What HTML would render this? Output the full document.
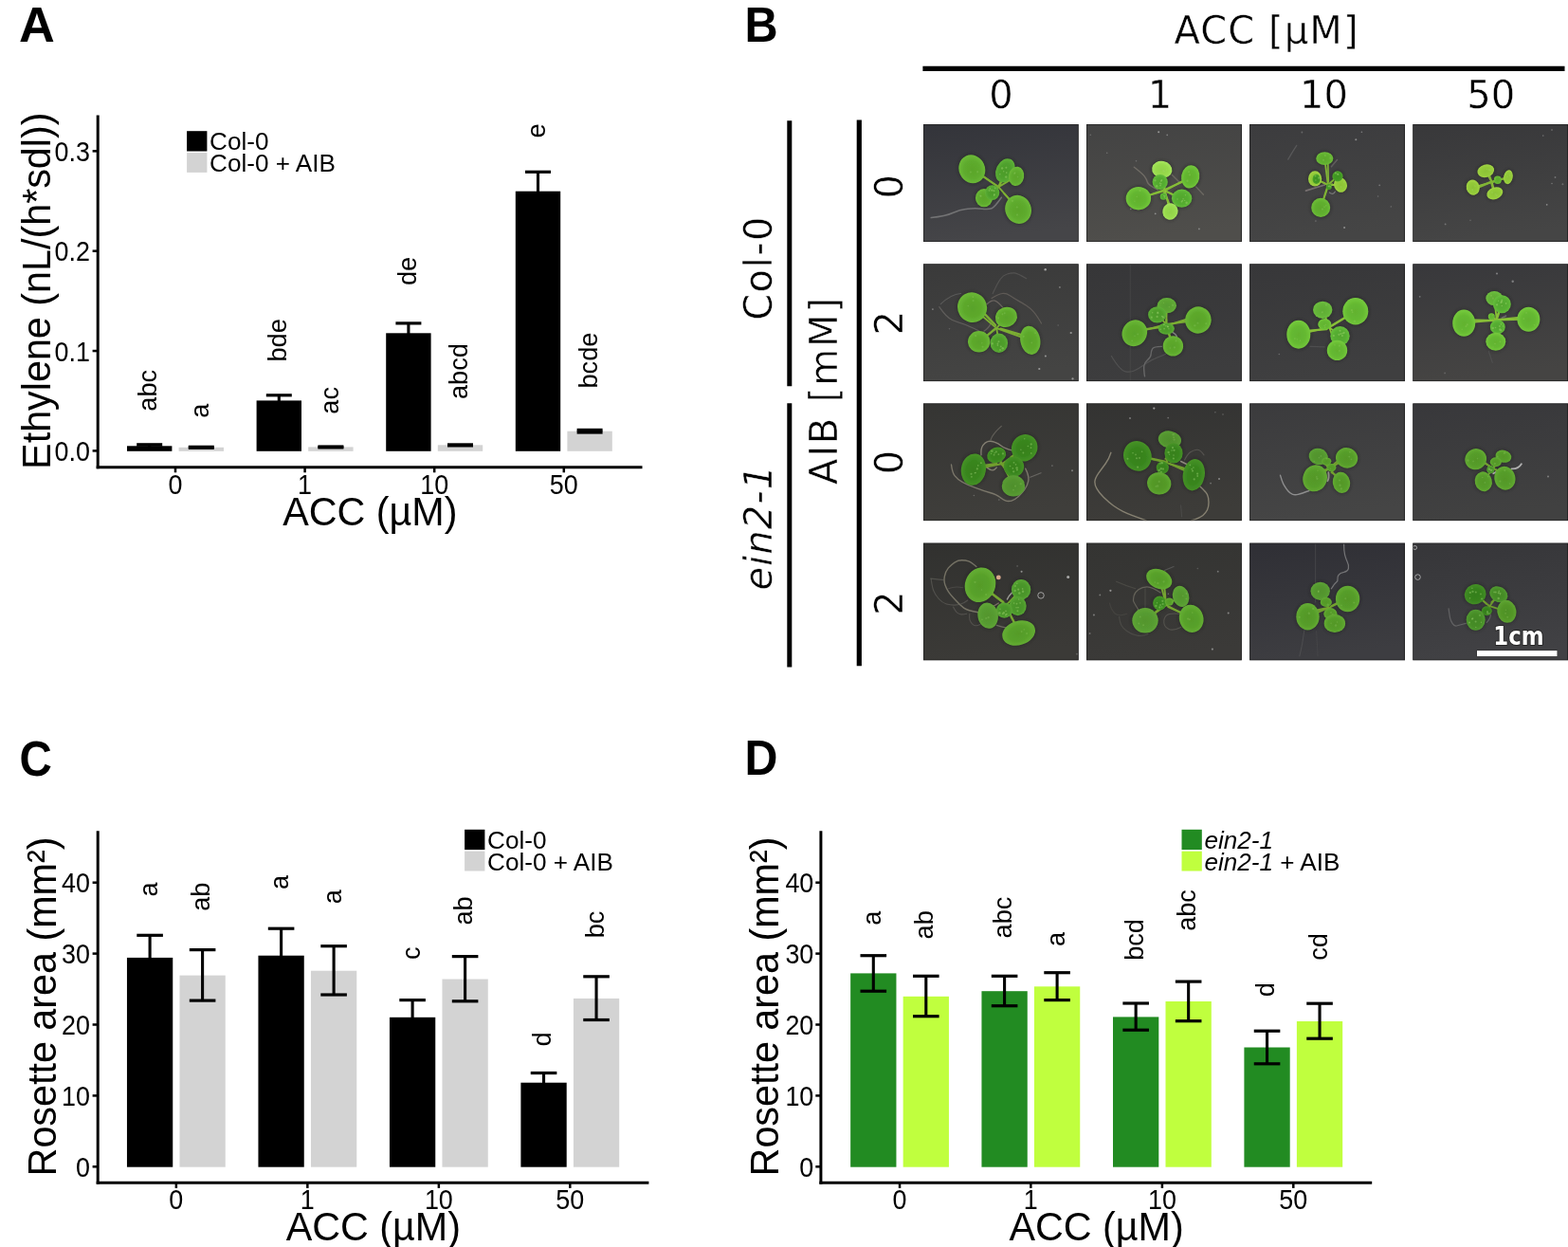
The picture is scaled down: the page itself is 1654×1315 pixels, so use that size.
<!DOCTYPE html>
<html lang="en"><head><meta charset="utf-8"><title>Figure</title>
<style>html,body{margin:0;padding:0;background:#fff}body{width:1654px;height:1315px;overflow:hidden}svg{display:block}text{font-family:"Liberation Sans", sans-serif;fill:#000} .b{font-family:"DejaVu Sans", sans-serif;stroke:#fff;stroke-width:0.45px} .pl{font-weight:bold} .i{font-style:italic}</style></head><body>
<svg width="1654" height="1315" viewBox="0 0 1654 1315">
<rect width="1654" height="1315" fill="#fff"/>
<text x="20.10" y="44.20" font-size="52.3" text-anchor="start" class="pl">A</text>
<text transform="translate(785.50 44.20) scale(0.93 1)" font-size="52.3" text-anchor="start" class="pl">B</text>
<text transform="translate(20.50 817.70) scale(0.91 1)" font-size="52.3" text-anchor="start" class="pl">C</text>
<text transform="translate(785.50 817.30) scale(0.925 1)" font-size="52.3" text-anchor="start" class="pl">D</text>
<rect x="134.00" y="470.30" width="47.40" height="5.50" fill="#000000"/>
<rect x="188.60" y="471.80" width="47.40" height="4.00" fill="#d3d3d3"/>
<line x1="157.70" y1="468.80" x2="157.70" y2="471.90" stroke="#000" stroke-width="3.1"/>
<line x1="144.20" y1="468.80" x2="171.20" y2="468.80" stroke="#000" stroke-width="3.2"/>
<line x1="144.20" y1="471.90" x2="171.20" y2="471.90" stroke="#000" stroke-width="3.2"/>
<line x1="212.30" y1="471.30" x2="212.30" y2="472.30" stroke="#000" stroke-width="3.1"/>
<line x1="198.80" y1="471.30" x2="225.80" y2="471.30" stroke="#000" stroke-width="3.2"/>
<line x1="198.80" y1="472.30" x2="225.80" y2="472.30" stroke="#000" stroke-width="3.2"/>
<text transform="translate(165.30 411.75) rotate(-90)" font-size="27.2" text-anchor="middle">abc</text>
<text transform="translate(219.90 433.30) rotate(-90)" font-size="27.2" text-anchor="middle">a</text>
<rect x="270.60" y="422.40" width="47.40" height="53.40" fill="#000000"/>
<rect x="325.20" y="471.40" width="47.40" height="4.40" fill="#d3d3d3"/>
<line x1="294.30" y1="416.80" x2="294.30" y2="427.60" stroke="#000" stroke-width="3.1"/>
<line x1="280.80" y1="416.80" x2="307.80" y2="416.80" stroke="#000" stroke-width="3.2"/>
<line x1="280.80" y1="427.60" x2="307.80" y2="427.60" stroke="#000" stroke-width="3.2"/>
<line x1="348.90" y1="471.00" x2="348.90" y2="471.90" stroke="#000" stroke-width="3.1"/>
<line x1="335.40" y1="471.00" x2="362.40" y2="471.00" stroke="#000" stroke-width="3.2"/>
<line x1="335.40" y1="471.90" x2="362.40" y2="471.90" stroke="#000" stroke-width="3.2"/>
<text transform="translate(301.90 358.85) rotate(-90)" font-size="27.2" text-anchor="middle">bde</text>
<text transform="translate(356.50 422.30) rotate(-90)" font-size="27.2" text-anchor="middle">ac</text>
<rect x="407.20" y="351.30" width="47.40" height="124.50" fill="#000000"/>
<rect x="461.80" y="469.30" width="47.40" height="6.50" fill="#d3d3d3"/>
<line x1="430.90" y1="340.90" x2="430.90" y2="359.60" stroke="#000" stroke-width="3.1"/>
<line x1="417.40" y1="340.90" x2="444.40" y2="340.90" stroke="#000" stroke-width="3.2"/>
<line x1="417.40" y1="359.60" x2="444.40" y2="359.60" stroke="#000" stroke-width="3.2"/>
<line x1="485.50" y1="468.90" x2="485.50" y2="469.90" stroke="#000" stroke-width="3.1"/>
<line x1="472.00" y1="468.90" x2="499.00" y2="468.90" stroke="#000" stroke-width="3.2"/>
<line x1="472.00" y1="469.90" x2="499.00" y2="469.90" stroke="#000" stroke-width="3.2"/>
<text transform="translate(438.50 285.90) rotate(-90)" font-size="27.2" text-anchor="middle">de</text>
<text transform="translate(493.10 391.60) rotate(-90)" font-size="27.2" text-anchor="middle">abcd</text>
<rect x="543.80" y="201.70" width="47.40" height="274.10" fill="#000000"/>
<rect x="598.40" y="454.70" width="47.40" height="21.10" fill="#d3d3d3"/>
<line x1="567.50" y1="181.30" x2="567.50" y2="219.60" stroke="#000" stroke-width="3.1"/>
<line x1="554.00" y1="181.30" x2="581.00" y2="181.30" stroke="#000" stroke-width="3.2"/>
<line x1="554.00" y1="219.60" x2="581.00" y2="219.60" stroke="#000" stroke-width="3.2"/>
<line x1="622.10" y1="453.40" x2="622.10" y2="456.00" stroke="#000" stroke-width="3.1"/>
<line x1="608.60" y1="453.40" x2="635.60" y2="453.40" stroke="#000" stroke-width="3.2"/>
<line x1="608.60" y1="456.00" x2="635.60" y2="456.00" stroke="#000" stroke-width="3.2"/>
<text transform="translate(575.10 138.05) rotate(-90)" font-size="27.2" text-anchor="middle">e</text>
<text transform="translate(629.70 380.10) rotate(-90)" font-size="27.2" text-anchor="middle">bcde</text>
<line x1="103.20" y1="121.40" x2="103.20" y2="494.20" stroke="#000" stroke-width="3.0"/>
<line x1="101.70" y1="492.70" x2="677.50" y2="492.70" stroke="#000" stroke-width="3.0"/>
<line x1="97.60" y1="475.40" x2="103.20" y2="475.40" stroke="#000" stroke-width="2.5"/>
<text transform="translate(95.00 485.90) scale(1 1.08)" font-size="26.9" text-anchor="end">0.0</text>
<line x1="97.60" y1="370.05" x2="103.20" y2="370.05" stroke="#000" stroke-width="2.5"/>
<text transform="translate(95.00 380.55) scale(1 1.08)" font-size="26.9" text-anchor="end">0.1</text>
<line x1="97.60" y1="264.70" x2="103.20" y2="264.70" stroke="#000" stroke-width="2.5"/>
<text transform="translate(95.00 275.20) scale(1 1.08)" font-size="26.9" text-anchor="end">0.2</text>
<line x1="97.60" y1="159.35" x2="103.20" y2="159.35" stroke="#000" stroke-width="2.5"/>
<text transform="translate(95.00 169.85) scale(1 1.08)" font-size="26.9" text-anchor="end">0.3</text>
<line x1="185.00" y1="492.70" x2="185.00" y2="498.30" stroke="#000" stroke-width="2.5"/>
<text transform="translate(185.00 520.90) scale(1 1.08)" font-size="26.9" text-anchor="middle">0</text>
<line x1="321.60" y1="492.70" x2="321.60" y2="498.30" stroke="#000" stroke-width="2.5"/>
<text transform="translate(321.60 520.90) scale(1 1.08)" font-size="26.9" text-anchor="middle">1</text>
<line x1="458.20" y1="492.70" x2="458.20" y2="498.30" stroke="#000" stroke-width="2.5"/>
<text transform="translate(458.20 520.90) scale(1 1.08)" font-size="26.9" text-anchor="middle">10</text>
<line x1="594.80" y1="492.70" x2="594.80" y2="498.30" stroke="#000" stroke-width="2.5"/>
<text transform="translate(594.80 520.90) scale(1 1.08)" font-size="26.9" text-anchor="middle">50</text>
<text transform="translate(52.80 306.70) rotate(-90) scale(1 1.04)" font-size="41.3" text-anchor="middle">Ethylene (nL/(h*sdl))</text>
<text transform="translate(390.35 553.70) scale(1 1.04)" font-size="41.3" text-anchor="middle">ACC (µM)</text>
<rect x="197.10" y="138.20" width="21.30" height="21.30" fill="#000000"/>
<rect x="197.10" y="161.10" width="21.30" height="20.80" fill="#d3d3d3"/>
<text x="221.10" y="158.40" font-size="26.1" text-anchor="start">Col-0</text>
<text x="221.10" y="181.30" font-size="26.1" text-anchor="start">Col-0 + AIB</text>
<rect x="133.95" y="1009.90" width="48.30" height="220.80" fill="#000000"/>
<rect x="189.45" y="1028.60" width="48.30" height="202.10" fill="#d3d3d3"/>
<line x1="158.10" y1="986.30" x2="158.10" y2="1019.60" stroke="#000" stroke-width="3.1"/>
<line x1="144.30" y1="986.30" x2="171.90" y2="986.30" stroke="#000" stroke-width="3.2"/>
<line x1="144.30" y1="1019.60" x2="171.90" y2="1019.60" stroke="#000" stroke-width="3.2"/>
<line x1="213.60" y1="1001.60" x2="213.60" y2="1055.10" stroke="#000" stroke-width="3.1"/>
<line x1="199.80" y1="1001.60" x2="227.40" y2="1001.60" stroke="#000" stroke-width="3.2"/>
<line x1="199.80" y1="1055.10" x2="227.40" y2="1055.10" stroke="#000" stroke-width="3.2"/>
<text transform="translate(165.70 937.85) rotate(-90)" font-size="27.2" text-anchor="middle">a</text>
<text transform="translate(221.20 945.65) rotate(-90)" font-size="27.2" text-anchor="middle">ab</text>
<rect x="272.45" y="1007.70" width="48.30" height="223.00" fill="#000000"/>
<rect x="327.95" y="1023.70" width="48.30" height="207.00" fill="#d3d3d3"/>
<line x1="296.60" y1="979.20" x2="296.60" y2="1019.60" stroke="#000" stroke-width="3.1"/>
<line x1="282.80" y1="979.20" x2="310.40" y2="979.20" stroke="#000" stroke-width="3.2"/>
<line x1="282.80" y1="1019.60" x2="310.40" y2="1019.60" stroke="#000" stroke-width="3.2"/>
<line x1="352.10" y1="997.70" x2="352.10" y2="1049.00" stroke="#000" stroke-width="3.1"/>
<line x1="338.30" y1="997.70" x2="365.90" y2="997.70" stroke="#000" stroke-width="3.2"/>
<line x1="338.30" y1="1049.00" x2="365.90" y2="1049.00" stroke="#000" stroke-width="3.2"/>
<text transform="translate(304.20 930.55) rotate(-90)" font-size="27.2" text-anchor="middle">a</text>
<text transform="translate(359.70 945.75) rotate(-90)" font-size="27.2" text-anchor="middle">a</text>
<rect x="410.95" y="1072.80" width="48.30" height="157.90" fill="#000000"/>
<rect x="466.45" y="1032.50" width="48.30" height="198.20" fill="#d3d3d3"/>
<line x1="435.10" y1="1054.60" x2="435.10" y2="1079.60" stroke="#000" stroke-width="3.1"/>
<line x1="421.30" y1="1054.60" x2="448.90" y2="1054.60" stroke="#000" stroke-width="3.2"/>
<line x1="421.30" y1="1079.60" x2="448.90" y2="1079.60" stroke="#000" stroke-width="3.2"/>
<line x1="490.60" y1="1008.60" x2="490.60" y2="1055.80" stroke="#000" stroke-width="3.1"/>
<line x1="476.80" y1="1008.60" x2="504.40" y2="1008.60" stroke="#000" stroke-width="3.2"/>
<line x1="476.80" y1="1055.80" x2="504.40" y2="1055.80" stroke="#000" stroke-width="3.2"/>
<text transform="translate(442.70 1005.20) rotate(-90)" font-size="27.2" text-anchor="middle">c</text>
<text transform="translate(498.20 960.40) rotate(-90)" font-size="27.2" text-anchor="middle">ab</text>
<rect x="549.40" y="1141.70" width="48.30" height="89.00" fill="#000000"/>
<rect x="604.90" y="1052.90" width="48.30" height="177.80" fill="#d3d3d3"/>
<line x1="573.55" y1="1131.50" x2="573.55" y2="1149.60" stroke="#000" stroke-width="3.1"/>
<line x1="559.75" y1="1131.50" x2="587.35" y2="1131.50" stroke="#000" stroke-width="3.2"/>
<line x1="559.75" y1="1149.60" x2="587.35" y2="1149.60" stroke="#000" stroke-width="3.2"/>
<line x1="629.05" y1="1029.80" x2="629.05" y2="1075.50" stroke="#000" stroke-width="3.1"/>
<line x1="615.25" y1="1029.80" x2="642.85" y2="1029.80" stroke="#000" stroke-width="3.2"/>
<line x1="615.25" y1="1075.50" x2="642.85" y2="1075.50" stroke="#000" stroke-width="3.2"/>
<text transform="translate(581.15 1096.00) rotate(-90)" font-size="27.2" text-anchor="middle">d</text>
<text transform="translate(636.65 975.00) rotate(-90)" font-size="27.2" text-anchor="middle">bc</text>
<line x1="103.20" y1="876.30" x2="103.20" y2="1248.80" stroke="#000" stroke-width="3.0"/>
<line x1="101.70" y1="1247.30" x2="684.40" y2="1247.30" stroke="#000" stroke-width="3.0"/>
<line x1="97.60" y1="1230.30" x2="103.20" y2="1230.30" stroke="#000" stroke-width="2.5"/>
<text transform="translate(95.00 1240.80) scale(1 1.08)" font-size="26.9" text-anchor="end">0</text>
<line x1="97.60" y1="1155.40" x2="103.20" y2="1155.40" stroke="#000" stroke-width="2.5"/>
<text transform="translate(95.00 1165.90) scale(1 1.08)" font-size="26.9" text-anchor="end">10</text>
<line x1="97.60" y1="1080.50" x2="103.20" y2="1080.50" stroke="#000" stroke-width="2.5"/>
<text transform="translate(95.00 1091.00) scale(1 1.08)" font-size="26.9" text-anchor="end">20</text>
<line x1="97.60" y1="1005.60" x2="103.20" y2="1005.60" stroke="#000" stroke-width="2.5"/>
<text transform="translate(95.00 1016.10) scale(1 1.08)" font-size="26.9" text-anchor="end">30</text>
<line x1="97.60" y1="930.70" x2="103.20" y2="930.70" stroke="#000" stroke-width="2.5"/>
<text transform="translate(95.00 941.20) scale(1 1.08)" font-size="26.9" text-anchor="end">40</text>
<line x1="185.85" y1="1247.30" x2="185.85" y2="1252.90" stroke="#000" stroke-width="2.5"/>
<text transform="translate(185.85 1275.20) scale(1 1.08)" font-size="26.9" text-anchor="middle">0</text>
<line x1="324.35" y1="1247.30" x2="324.35" y2="1252.90" stroke="#000" stroke-width="2.5"/>
<text transform="translate(324.35 1275.20) scale(1 1.08)" font-size="26.9" text-anchor="middle">1</text>
<line x1="462.85" y1="1247.30" x2="462.85" y2="1252.90" stroke="#000" stroke-width="2.5"/>
<text transform="translate(462.85 1275.20) scale(1 1.08)" font-size="26.9" text-anchor="middle">10</text>
<line x1="601.30" y1="1247.30" x2="601.30" y2="1252.90" stroke="#000" stroke-width="2.5"/>
<text transform="translate(601.30 1275.20) scale(1 1.08)" font-size="26.9" text-anchor="middle">50</text>
<text transform="translate(59.40 1061.45) rotate(-90) scale(1 1.04)" font-size="41.3" text-anchor="middle">Rosette area (mm²)</text>
<text transform="translate(393.80 1308.40) scale(1 1.04)" font-size="41.3" text-anchor="middle">ACC (µM)</text>
<rect x="490.10" y="874.80" width="21.30" height="21.30" fill="#000000"/>
<rect x="490.10" y="897.70" width="21.30" height="20.80" fill="#d3d3d3"/>
<text x="514.10" y="895.00" font-size="26.1" text-anchor="start">Col-0</text>
<text x="514.10" y="917.90" font-size="26.1" text-anchor="start">Col-0 + AIB</text>
<rect x="897.15" y="1026.40" width="48.30" height="204.30" fill="#228b22"/>
<rect x="952.65" y="1050.80" width="48.30" height="179.90" fill="#c0ff3e"/>
<line x1="921.30" y1="1007.70" x2="921.30" y2="1045.20" stroke="#000" stroke-width="3.1"/>
<line x1="907.50" y1="1007.70" x2="935.10" y2="1007.70" stroke="#000" stroke-width="3.2"/>
<line x1="907.50" y1="1045.20" x2="935.10" y2="1045.20" stroke="#000" stroke-width="3.2"/>
<line x1="976.80" y1="1029.30" x2="976.80" y2="1071.70" stroke="#000" stroke-width="3.1"/>
<line x1="963.00" y1="1029.30" x2="990.60" y2="1029.30" stroke="#000" stroke-width="3.2"/>
<line x1="963.00" y1="1071.70" x2="990.60" y2="1071.70" stroke="#000" stroke-width="3.2"/>
<text transform="translate(928.90 968.30) rotate(-90)" font-size="27.2" text-anchor="middle">a</text>
<text transform="translate(984.40 975.35) rotate(-90)" font-size="27.2" text-anchor="middle">ab</text>
<rect x="1035.45" y="1045.20" width="48.30" height="185.50" fill="#228b22"/>
<rect x="1090.95" y="1040.30" width="48.30" height="190.40" fill="#c0ff3e"/>
<line x1="1059.60" y1="1029.30" x2="1059.60" y2="1060.70" stroke="#000" stroke-width="3.1"/>
<line x1="1045.80" y1="1029.30" x2="1073.40" y2="1029.30" stroke="#000" stroke-width="3.2"/>
<line x1="1045.80" y1="1060.70" x2="1073.40" y2="1060.70" stroke="#000" stroke-width="3.2"/>
<line x1="1115.10" y1="1025.70" x2="1115.10" y2="1054.60" stroke="#000" stroke-width="3.1"/>
<line x1="1101.30" y1="1025.70" x2="1128.90" y2="1025.70" stroke="#000" stroke-width="3.2"/>
<line x1="1101.30" y1="1054.60" x2="1128.90" y2="1054.60" stroke="#000" stroke-width="3.2"/>
<text transform="translate(1067.20 967.55) rotate(-90)" font-size="27.2" text-anchor="middle">abc</text>
<text transform="translate(1122.70 990.50) rotate(-90)" font-size="27.2" text-anchor="middle">a</text>
<rect x="1174.00" y="1072.40" width="48.30" height="158.30" fill="#228b22"/>
<rect x="1229.50" y="1056.00" width="48.30" height="174.70" fill="#c0ff3e"/>
<line x1="1198.15" y1="1058.00" x2="1198.15" y2="1086.20" stroke="#000" stroke-width="3.1"/>
<line x1="1184.35" y1="1058.00" x2="1211.95" y2="1058.00" stroke="#000" stroke-width="3.2"/>
<line x1="1184.35" y1="1086.20" x2="1211.95" y2="1086.20" stroke="#000" stroke-width="3.2"/>
<line x1="1253.65" y1="1035.10" x2="1253.65" y2="1076.70" stroke="#000" stroke-width="3.1"/>
<line x1="1239.85" y1="1035.10" x2="1267.45" y2="1035.10" stroke="#000" stroke-width="3.2"/>
<line x1="1239.85" y1="1076.70" x2="1267.45" y2="1076.70" stroke="#000" stroke-width="3.2"/>
<text transform="translate(1205.75 990.95) rotate(-90)" font-size="27.2" text-anchor="middle">bcd</text>
<text transform="translate(1261.25 959.95) rotate(-90)" font-size="27.2" text-anchor="middle">abc</text>
<rect x="1312.40" y="1104.50" width="48.30" height="126.20" fill="#228b22"/>
<rect x="1367.90" y="1077.00" width="48.30" height="153.70" fill="#c0ff3e"/>
<line x1="1336.55" y1="1087.20" x2="1336.55" y2="1121.80" stroke="#000" stroke-width="3.1"/>
<line x1="1322.75" y1="1087.20" x2="1350.35" y2="1087.20" stroke="#000" stroke-width="3.2"/>
<line x1="1322.75" y1="1121.80" x2="1350.35" y2="1121.80" stroke="#000" stroke-width="3.2"/>
<line x1="1392.05" y1="1058.20" x2="1392.05" y2="1095.20" stroke="#000" stroke-width="3.1"/>
<line x1="1378.25" y1="1058.20" x2="1405.85" y2="1058.20" stroke="#000" stroke-width="3.2"/>
<line x1="1378.25" y1="1095.20" x2="1405.85" y2="1095.20" stroke="#000" stroke-width="3.2"/>
<text transform="translate(1344.15 1043.65) rotate(-90)" font-size="27.2" text-anchor="middle">d</text>
<text transform="translate(1399.65 998.50) rotate(-90)" font-size="27.2" text-anchor="middle">cd</text>
<line x1="865.90" y1="876.30" x2="865.90" y2="1248.80" stroke="#000" stroke-width="3.0"/>
<line x1="864.40" y1="1247.30" x2="1447.20" y2="1247.30" stroke="#000" stroke-width="3.0"/>
<line x1="860.30" y1="1230.30" x2="865.90" y2="1230.30" stroke="#000" stroke-width="2.5"/>
<text transform="translate(858.30 1240.80) scale(1 1.08)" font-size="26.9" text-anchor="end">0</text>
<line x1="860.30" y1="1155.40" x2="865.90" y2="1155.40" stroke="#000" stroke-width="2.5"/>
<text transform="translate(858.30 1165.90) scale(1 1.08)" font-size="26.9" text-anchor="end">10</text>
<line x1="860.30" y1="1080.50" x2="865.90" y2="1080.50" stroke="#000" stroke-width="2.5"/>
<text transform="translate(858.30 1091.00) scale(1 1.08)" font-size="26.9" text-anchor="end">20</text>
<line x1="860.30" y1="1005.60" x2="865.90" y2="1005.60" stroke="#000" stroke-width="2.5"/>
<text transform="translate(858.30 1016.10) scale(1 1.08)" font-size="26.9" text-anchor="end">30</text>
<line x1="860.30" y1="930.70" x2="865.90" y2="930.70" stroke="#000" stroke-width="2.5"/>
<text transform="translate(858.30 941.20) scale(1 1.08)" font-size="26.9" text-anchor="end">40</text>
<line x1="949.05" y1="1247.30" x2="949.05" y2="1252.90" stroke="#000" stroke-width="2.5"/>
<text transform="translate(949.05 1275.20) scale(1 1.08)" font-size="26.9" text-anchor="middle">0</text>
<line x1="1087.35" y1="1247.30" x2="1087.35" y2="1252.90" stroke="#000" stroke-width="2.5"/>
<text transform="translate(1087.35 1275.20) scale(1 1.08)" font-size="26.9" text-anchor="middle">1</text>
<line x1="1225.90" y1="1247.30" x2="1225.90" y2="1252.90" stroke="#000" stroke-width="2.5"/>
<text transform="translate(1225.90 1275.20) scale(1 1.08)" font-size="26.9" text-anchor="middle">10</text>
<line x1="1364.30" y1="1247.30" x2="1364.30" y2="1252.90" stroke="#000" stroke-width="2.5"/>
<text transform="translate(1364.30 1275.20) scale(1 1.08)" font-size="26.9" text-anchor="middle">50</text>
<text transform="translate(821.40 1061.45) rotate(-90) scale(1 1.04)" font-size="41.3" text-anchor="middle">Rosette area (mm²)</text>
<text transform="translate(1156.55 1308.40) scale(1 1.04)" font-size="41.3" text-anchor="middle">ACC (µM)</text>
<rect x="1246.50" y="874.80" width="21.30" height="21.30" fill="#228b22"/>
<rect x="1246.50" y="897.70" width="21.30" height="20.80" fill="#c0ff3e"/>
<text x="1270.50" y="895.00" font-size="26.1" text-anchor="start"><tspan class="i">ein2-1</tspan></text>
<text x="1270.50" y="917.90" font-size="26.1" text-anchor="start"><tspan class="i">ein2-1</tspan> + AIB</text>
<text x="1336.00" y="46.20" font-size="40" text-anchor="middle" class="b" letter-spacing="1.1">ACC [µM]</text>
<line x1="973.40" y1="72.40" x2="1650.50" y2="72.40" stroke="#000" stroke-width="5.2"/>
<text x="1056.10" y="113.50" font-size="40" text-anchor="middle" class="b">0</text>
<text x="1223.50" y="113.50" font-size="40" text-anchor="middle" class="b">1</text>
<text x="1396.40" y="113.50" font-size="40" text-anchor="middle" class="b">10</text>
<text x="1572.70" y="113.50" font-size="40" text-anchor="middle" class="b">50</text>
<line x1="832.80" y1="127.30" x2="832.80" y2="407.20" stroke="#000" stroke-width="5.0"/>
<line x1="832.80" y1="425.30" x2="832.80" y2="703.50" stroke="#000" stroke-width="5.0"/>
<line x1="906.30" y1="126.40" x2="906.30" y2="702.20" stroke="#000" stroke-width="5.2"/>
<text transform="translate(813.60 282.40) rotate(-90)" font-size="40" text-anchor="middle" class="b" letter-spacing="1.5">Col-0</text>
<text transform="translate(813.60 556.10) rotate(-90)" font-size="40" text-anchor="middle" class="b i" letter-spacing="1.1">ein2-1</text>
<text transform="translate(882.50 411.60) rotate(-90)" font-size="40" text-anchor="middle" class="b" letter-spacing="1.87">AIB [mM]</text>
<text transform="translate(952.00 196.70) rotate(-90)" font-size="40" text-anchor="middle" class="b">0</text>
<text transform="translate(952.00 340.50) rotate(-90)" font-size="40" text-anchor="middle" class="b">2</text>
<text transform="translate(952.00 487.60) rotate(-90)" font-size="40" text-anchor="middle" class="b">0</text>
<text transform="translate(952.00 636.10) rotate(-90)" font-size="40" text-anchor="middle" class="b">2</text>
<defs>
<filter id="soft" x="-5%" y="-5%" width="110%" height="110%"><feGaussianBlur stdDeviation="0.7"/></filter>
<filter id="soft2" x="-20%" y="-20%" width="140%" height="140%"><feGaussianBlur stdDeviation="0.6"/></filter>
<filter id="shad" x="-10%" y="-10%" width="120%" height="120%"><feGaussianBlur stdDeviation="1.6"/></filter>
<linearGradient id="bg00" x1="0" y1="0" x2="0.15" y2="1"><stop offset="0" stop-color="#33343a"/><stop offset="1" stop-color="#454548"/></linearGradient>
<clipPath id="cp00"><rect x="973.9" y="131.1" width="163.9" height="124.0"/></clipPath>
<radialGradient id="lfd00" cx="0.5" cy="0.52" r="0.56"><stop offset="0" stop-color="#4c9b2b"/><stop offset="0.55" stop-color="#4fa12d"/><stop offset="1" stop-color="#62b43b"/></radialGradient>
<radialGradient id="lfn00" cx="0.5" cy="0.52" r="0.56"><stop offset="0" stop-color="#5aa52b"/><stop offset="0.55" stop-color="#5eab2d"/><stop offset="1" stop-color="#70be3b"/></radialGradient>
<linearGradient id="bg01" x1="0" y1="0" x2="0.15" y2="1"><stop offset="0" stop-color="#434343"/><stop offset="1" stop-color="#4f4e4b"/></linearGradient>
<clipPath id="cp01"><rect x="1146.0" y="131.1" width="163.9" height="124.0"/></clipPath>
<radialGradient id="lfl01" cx="0.5" cy="0.52" r="0.56"><stop offset="0" stop-color="#91d24a"/><stop offset="0.55" stop-color="#97da4c"/><stop offset="1" stop-color="#aae763"/></radialGradient>
<radialGradient id="lfd01" cx="0.5" cy="0.52" r="0.56"><stop offset="0" stop-color="#52a62e"/><stop offset="0.55" stop-color="#55ad30"/><stop offset="1" stop-color="#69c13f"/></radialGradient>
<radialGradient id="lfn01" cx="0.5" cy="0.52" r="0.56"><stop offset="0" stop-color="#61b02e"/><stop offset="0.55" stop-color="#64b730"/><stop offset="1" stop-color="#78cc3f"/></radialGradient>
<linearGradient id="bg02" x1="0" y1="0" x2="0.15" y2="1"><stop offset="0" stop-color="#3c3c3e"/><stop offset="1" stop-color="#454545"/></linearGradient>
<clipPath id="cp02"><rect x="1318.1" y="131.1" width="163.9" height="124.0"/></clipPath>
<radialGradient id="lfk02" cx="0.5" cy="0.52" r="0.56"><stop offset="0" stop-color="#3e9222"/><stop offset="0.55" stop-color="#409823"/><stop offset="1" stop-color="#54aa2e"/></radialGradient>
<radialGradient id="lfy02" cx="0.5" cy="0.52" r="0.56"><stop offset="0" stop-color="#8cc236"/><stop offset="0.55" stop-color="#92ca38"/><stop offset="1" stop-color="#a6d648"/></radialGradient>
<radialGradient id="lfn02" cx="0.5" cy="0.52" r="0.56"><stop offset="0" stop-color="#5ca82c"/><stop offset="0.55" stop-color="#60af2e"/><stop offset="1" stop-color="#72c23c"/></radialGradient>
<linearGradient id="bg03" x1="0" y1="0" x2="0.15" y2="1"><stop offset="0" stop-color="#38383a"/><stop offset="1" stop-color="#454545"/></linearGradient>
<clipPath id="cp03"><rect x="1490.2" y="131.1" width="163.79999999999995" height="124.0"/></clipPath>
<radialGradient id="lfy03" cx="0.5" cy="0.52" r="0.56"><stop offset="0" stop-color="#8cc236"/><stop offset="0.55" stop-color="#92ca38"/><stop offset="1" stop-color="#a6d648"/></radialGradient>
<radialGradient id="lfn03" cx="0.5" cy="0.52" r="0.56"><stop offset="0" stop-color="#5ca82c"/><stop offset="0.55" stop-color="#60af2e"/><stop offset="1" stop-color="#72c23c"/></radialGradient>
<linearGradient id="bg10" x1="0" y1="0" x2="0.15" y2="1"><stop offset="0" stop-color="#3a3a3a"/><stop offset="1" stop-color="#444443"/></linearGradient>
<clipPath id="cp10"><rect x="973.9" y="278.2" width="163.9" height="124.0"/></clipPath>
<radialGradient id="lfd10" cx="0.5" cy="0.52" r="0.56"><stop offset="0" stop-color="#4c992b"/><stop offset="0.55" stop-color="#4f9f2c"/><stop offset="1" stop-color="#61b23a"/></radialGradient>
<radialGradient id="lfn10" cx="0.5" cy="0.52" r="0.56"><stop offset="0" stop-color="#59a32b"/><stop offset="0.55" stop-color="#5da92c"/><stop offset="1" stop-color="#6fbc3a"/></radialGradient>
<linearGradient id="bg11" x1="0" y1="0" x2="0.15" y2="1"><stop offset="0" stop-color="#363638"/><stop offset="1" stop-color="#3d3d3e"/></linearGradient>
<clipPath id="cp11"><rect x="1146.0" y="278.2" width="163.9" height="124.0"/></clipPath>
<radialGradient id="lfd11" cx="0.5" cy="0.52" r="0.56"><stop offset="0" stop-color="#4c992b"/><stop offset="0.55" stop-color="#4f9f2c"/><stop offset="1" stop-color="#61b23a"/></radialGradient>
<radialGradient id="lfm11" cx="0.5" cy="0.52" r="0.56"><stop offset="0" stop-color="#579d30"/><stop offset="0.55" stop-color="#5ba332"/><stop offset="1" stop-color="#67b13c"/></radialGradient>
<radialGradient id="lfn11" cx="0.5" cy="0.52" r="0.56"><stop offset="0" stop-color="#59a32b"/><stop offset="0.55" stop-color="#5da92c"/><stop offset="1" stop-color="#6fbc3a"/></radialGradient>
<linearGradient id="bg12" x1="0" y1="0" x2="0.15" y2="1"><stop offset="0" stop-color="#373739"/><stop offset="1" stop-color="#3f3f40"/></linearGradient>
<clipPath id="cp12"><rect x="1318.1" y="278.2" width="163.9" height="124.0"/></clipPath>
<radialGradient id="lfd12" cx="0.5" cy="0.52" r="0.56"><stop offset="0" stop-color="#53a72f"/><stop offset="0.55" stop-color="#56ae31"/><stop offset="1" stop-color="#6ac340"/></radialGradient>
<radialGradient id="lfm12" cx="0.5" cy="0.52" r="0.56"><stop offset="0" stop-color="#5fac35"/><stop offset="0.55" stop-color="#63b337"/><stop offset="1" stop-color="#70c142"/></radialGradient>
<radialGradient id="lfn12" cx="0.5" cy="0.52" r="0.56"><stop offset="0" stop-color="#62b22f"/><stop offset="0.55" stop-color="#65b931"/><stop offset="1" stop-color="#79ce40"/></radialGradient>
<linearGradient id="bg13" x1="0" y1="0" x2="0.15" y2="1"><stop offset="0" stop-color="#38383b"/><stop offset="1" stop-color="#454443"/></linearGradient>
<clipPath id="cp13"><rect x="1490.2" y="278.2" width="163.79999999999995" height="124.0"/></clipPath>
<radialGradient id="lfd13" cx="0.5" cy="0.52" r="0.56"><stop offset="0" stop-color="#53a72f"/><stop offset="0.55" stop-color="#56ae31"/><stop offset="1" stop-color="#6ac340"/></radialGradient>
<radialGradient id="lfm13" cx="0.5" cy="0.52" r="0.56"><stop offset="0" stop-color="#5fac35"/><stop offset="0.55" stop-color="#63b337"/><stop offset="1" stop-color="#70c142"/></radialGradient>
<radialGradient id="lfn13" cx="0.5" cy="0.52" r="0.56"><stop offset="0" stop-color="#62b22f"/><stop offset="0.55" stop-color="#65b931"/><stop offset="1" stop-color="#79ce40"/></radialGradient>
<linearGradient id="bg20" x1="0" y1="0" x2="0.15" y2="1"><stop offset="0" stop-color="#353533"/><stop offset="1" stop-color="#3f3e3b"/></linearGradient>
<clipPath id="cp20"><rect x="973.9" y="425.3" width="163.9" height="124.0"/></clipPath>
<radialGradient id="lfk20" cx="0.5" cy="0.52" r="0.56"><stop offset="0" stop-color="#37801e"/><stop offset="0.55" stop-color="#39861f"/><stop offset="1" stop-color="#4a9628"/></radialGradient>
<radialGradient id="lfm20" cx="0.5" cy="0.52" r="0.56"><stop offset="0" stop-color="#4f8f2c"/><stop offset="0.55" stop-color="#52942e"/><stop offset="1" stop-color="#5da037"/></radialGradient>
<linearGradient id="bg21" x1="0" y1="0" x2="0.15" y2="1"><stop offset="0" stop-color="#333332"/><stop offset="1" stop-color="#3d3c39"/></linearGradient>
<clipPath id="cp21"><rect x="1146.0" y="425.3" width="163.9" height="124.0"/></clipPath>
<radialGradient id="lfk21" cx="0.5" cy="0.52" r="0.56"><stop offset="0" stop-color="#37801e"/><stop offset="0.55" stop-color="#39861f"/><stop offset="1" stop-color="#4a9628"/></radialGradient>
<radialGradient id="lfm21" cx="0.5" cy="0.52" r="0.56"><stop offset="0" stop-color="#4f8f2c"/><stop offset="0.55" stop-color="#52942e"/><stop offset="1" stop-color="#5da037"/></radialGradient>
<radialGradient id="lfn21" cx="0.5" cy="0.52" r="0.56"><stop offset="0" stop-color="#519427"/><stop offset="0.55" stop-color="#549a28"/><stop offset="1" stop-color="#64ab35"/></radialGradient>
<linearGradient id="bg22" x1="0" y1="0" x2="0.15" y2="1"><stop offset="0" stop-color="#3b3b3d"/><stop offset="1" stop-color="#454545"/></linearGradient>
<clipPath id="cp22"><rect x="1318.1" y="425.3" width="163.9" height="124.0"/></clipPath>
<radialGradient id="lfm22" cx="0.5" cy="0.52" r="0.56"><stop offset="0" stop-color="#51922d"/><stop offset="0.55" stop-color="#54982f"/><stop offset="1" stop-color="#5fa438"/></radialGradient>
<radialGradient id="lfn22" cx="0.5" cy="0.52" r="0.56"><stop offset="0" stop-color="#539728"/><stop offset="0.55" stop-color="#569d29"/><stop offset="1" stop-color="#67af36"/></radialGradient>
<linearGradient id="bg23" x1="0" y1="0" x2="0.15" y2="1"><stop offset="0" stop-color="#38383b"/><stop offset="1" stop-color="#414141"/></linearGradient>
<clipPath id="cp23"><rect x="1490.2" y="425.3" width="163.79999999999995" height="124.0"/></clipPath>
<radialGradient id="lfd23" cx="0.5" cy="0.52" r="0.56"><stop offset="0" stop-color="#468e28"/><stop offset="0.55" stop-color="#499429"/><stop offset="1" stop-color="#5aa636"/></radialGradient>
<radialGradient id="lfn23" cx="0.5" cy="0.52" r="0.56"><stop offset="0" stop-color="#539728"/><stop offset="0.55" stop-color="#569d29"/><stop offset="1" stop-color="#67af36"/></radialGradient>
<linearGradient id="bg30" x1="0" y1="0" x2="0.15" y2="1"><stop offset="0" stop-color="#31312f"/><stop offset="1" stop-color="#3b3a37"/></linearGradient>
<clipPath id="cp30"><rect x="973.9" y="572.4" width="163.9" height="124.0"/></clipPath>
<radialGradient id="lfd30" cx="0.5" cy="0.52" r="0.56"><stop offset="0" stop-color="#489128"/><stop offset="0.55" stop-color="#4b972a"/><stop offset="1" stop-color="#5ca937"/></radialGradient>
<radialGradient id="lfm30" cx="0.5" cy="0.52" r="0.56"><stop offset="0" stop-color="#53952e"/><stop offset="0.55" stop-color="#569b30"/><stop offset="1" stop-color="#62a739"/></radialGradient>
<radialGradient id="lfn30" cx="0.5" cy="0.52" r="0.56"><stop offset="0" stop-color="#559b28"/><stop offset="0.55" stop-color="#58a12a"/><stop offset="1" stop-color="#69b237"/></radialGradient>
<linearGradient id="bg31" x1="0" y1="0" x2="0.15" y2="1"><stop offset="0" stop-color="#343432"/><stop offset="1" stop-color="#3b3a38"/></linearGradient>
<clipPath id="cp31"><rect x="1146.0" y="572.4" width="163.9" height="124.0"/></clipPath>
<radialGradient id="lfk31" cx="0.5" cy="0.52" r="0.56"><stop offset="0" stop-color="#39861f"/><stop offset="0.55" stop-color="#3b8c21"/><stop offset="1" stop-color="#4d9c2a"/></radialGradient>
<radialGradient id="lfm31" cx="0.5" cy="0.52" r="0.56"><stop offset="0" stop-color="#53952e"/><stop offset="0.55" stop-color="#569b30"/><stop offset="1" stop-color="#62a739"/></radialGradient>
<radialGradient id="lfn31" cx="0.5" cy="0.52" r="0.56"><stop offset="0" stop-color="#559b28"/><stop offset="0.55" stop-color="#58a12a"/><stop offset="1" stop-color="#69b237"/></radialGradient>
<linearGradient id="bg32" x1="0" y1="0" x2="0.15" y2="1"><stop offset="0" stop-color="#2f2f35"/><stop offset="1" stop-color="#3d3d41"/></linearGradient>
<clipPath id="cp32"><rect x="1318.1" y="572.4" width="163.9" height="124.0"/></clipPath>
<radialGradient id="lfm32" cx="0.5" cy="0.52" r="0.56"><stop offset="0" stop-color="#51922d"/><stop offset="0.55" stop-color="#54982f"/><stop offset="1" stop-color="#5fa438"/></radialGradient>
<radialGradient id="lfn32" cx="0.5" cy="0.52" r="0.56"><stop offset="0" stop-color="#539728"/><stop offset="0.55" stop-color="#569d29"/><stop offset="1" stop-color="#67af36"/></radialGradient>
<linearGradient id="bg33" x1="0" y1="0" x2="0.15" y2="1"><stop offset="0" stop-color="#363639"/><stop offset="1" stop-color="#414144"/></linearGradient>
<clipPath id="cp33"><rect x="1490.2" y="572.4" width="163.79999999999995" height="124.0"/></clipPath>
<radialGradient id="lfk33" cx="0.5" cy="0.52" r="0.56"><stop offset="0" stop-color="#357e1d"/><stop offset="0.55" stop-color="#37831e"/><stop offset="1" stop-color="#489228"/></radialGradient>
<radialGradient id="lfd33" cx="0.5" cy="0.52" r="0.56"><stop offset="0" stop-color="#438826"/><stop offset="0.55" stop-color="#468d27"/><stop offset="1" stop-color="#569e34"/></radialGradient>
<radialGradient id="lfn33" cx="0.5" cy="0.52" r="0.56"><stop offset="0" stop-color="#4f9026"/><stop offset="0.55" stop-color="#529627"/><stop offset="1" stop-color="#62a734"/></radialGradient>
</defs>
<g clip-path="url(#cp00)">
<rect x="973.9" y="131.1" width="163.9" height="124.0" fill="url(#bg00)"/>
<g filter="url(#shad)" opacity="0.42">
<ellipse cx="1025.3" cy="178.3" rx="14.7" ry="16.2" fill="#1a1a1a" transform="rotate(-25 1025.3 178.3)"/>
<ellipse cx="1060.4" cy="179.8" rx="10.6" ry="14.2" fill="#1a1a1a" transform="rotate(25 1060.4 179.8)"/>
<ellipse cx="1072.1" cy="185.9" rx="9.1" ry="11.2" fill="#1a1a1a" transform="rotate(10 1072.1 185.9)"/>
<ellipse cx="1038.0" cy="208.7" rx="10.1" ry="10.6" fill="#1a1a1a"/>
<ellipse cx="1046.7" cy="203.1" rx="8.6" ry="8.9" fill="#1a1a1a"/>
<ellipse cx="1074.1" cy="220.9" rx="14.7" ry="16.2" fill="#1a1a1a" transform="rotate(-20 1074.1 220.9)"/>
</g>
<g filter="url(#soft2)">
<path d="M1056.3 208.2 Q1049.2 218.4 1046.1 219.7 Q1043.1 220.9 1036.0 220.2 Q1028.9 219.4 1020.8 220.2 Q1012.6 220.9 1005.0 224.5 Q997.4 228.0 982.2 229.6" fill="none" stroke="#9a9a9a" stroke-width="1.52" stroke-linecap="round" opacity="0.56"/>
</g>
<g filter="url(#soft)">
<line x1="1053.3" y1="197.1" x2="1025.3" y2="178.3" stroke="#7db033" stroke-width="1.83" stroke-linecap="round"/>
<line x1="1053.3" y1="197.1" x2="1060.4" y2="179.8" stroke="#7db033" stroke-width="1.83" stroke-linecap="round"/>
<line x1="1053.3" y1="197.1" x2="1072.1" y2="185.9" stroke="#7db033" stroke-width="1.83" stroke-linecap="round"/>
<line x1="1053.3" y1="197.1" x2="1038.0" y2="208.7" stroke="#7db033" stroke-width="1.83" stroke-linecap="round"/>
<line x1="1053.3" y1="197.1" x2="1046.7" y2="203.1" stroke="#7db033" stroke-width="1.83" stroke-linecap="round"/>
<line x1="1053.3" y1="197.1" x2="1074.1" y2="220.9" stroke="#7db033" stroke-width="1.83" stroke-linecap="round"/>
<line x1="1037.0" y1="185.9" x2="1052.2" y2="196.5" stroke="#7db033" stroke-width="2.11" stroke-linecap="round"/>
<line x1="1059.4" y1="204.2" x2="1068.0" y2="213.8" stroke="#7db033" stroke-width="1.95" stroke-linecap="round"/>
<line x1="1053.3" y1="197.1" x2="1057.3" y2="189.9" stroke="#7db033" stroke-width="2.11" stroke-linecap="round"/>
<ellipse cx="1025.3" cy="178.3" rx="13.7" ry="15.2" fill="url(#lfn00)" transform="rotate(-25 1025.3 178.3)"/>
<circle cx="1023.9" cy="181.5" r="1.03" fill="#aadc78" opacity="0.22"/>
<circle cx="1031.1" cy="181.4" r="0.88" fill="#aadc78" opacity="0.22"/>
<circle cx="1031.1" cy="180.7" r="0.72" fill="#aadc78" opacity="0.22"/>
<ellipse cx="1060.4" cy="179.8" rx="9.6" ry="13.2" fill="url(#lfd00)" transform="rotate(25 1060.4 179.8)"/>
<circle cx="1058.7" cy="180.8" r="0.75" fill="#aadc78" opacity="0.4"/>
<circle cx="1054.8" cy="183.7" r="0.76" fill="#aadc78" opacity="0.4"/>
<circle cx="1061.2" cy="186.6" r="1.17" fill="#aadc78" opacity="0.4"/>
<circle cx="1057.1" cy="177.4" r="1.19" fill="#aadc78" opacity="0.4"/>
<circle cx="1066.5" cy="182.3" r="0.84" fill="#aadc78" opacity="0.4"/>
<circle cx="1061.7" cy="182.1" r="0.85" fill="#aadc78" opacity="0.4"/>
<circle cx="1061.4" cy="176.7" r="0.99" fill="#aadc78" opacity="0.4"/>
<ellipse cx="1072.1" cy="185.9" rx="8.1" ry="10.2" fill="url(#lfn00)" transform="rotate(10 1072.1 185.9)"/>
<circle cx="1070.1" cy="183.0" r="0.97" fill="#aadc78" opacity="0.22"/>
<circle cx="1073.4" cy="186.6" r="0.80" fill="#aadc78" opacity="0.22"/>
<circle cx="1070.7" cy="182.1" r="0.86" fill="#aadc78" opacity="0.22"/>
<ellipse cx="1038.0" cy="208.7" rx="9.1" ry="9.6" fill="url(#lfn00)"/>
<circle cx="1034.7" cy="206.7" r="0.85" fill="#aadc78" opacity="0.22"/>
<circle cx="1039.5" cy="203.5" r="0.82" fill="#aadc78" opacity="0.22"/>
<circle cx="1034.2" cy="206.7" r="1.14" fill="#aadc78" opacity="0.22"/>
<ellipse cx="1046.7" cy="203.1" rx="7.6" ry="7.9" fill="url(#lfd00)"/>
<circle cx="1046.3" cy="200.6" r="1.19" fill="#aadc78" opacity="0.4"/>
<circle cx="1048.9" cy="205.3" r="1.08" fill="#aadc78" opacity="0.4"/>
<circle cx="1048.6" cy="206.0" r="0.72" fill="#aadc78" opacity="0.4"/>
<circle cx="1044.4" cy="198.9" r="0.99" fill="#aadc78" opacity="0.4"/>
<circle cx="1048.5" cy="201.3" r="1.05" fill="#aadc78" opacity="0.4"/>
<circle cx="1043.5" cy="200.9" r="0.93" fill="#aadc78" opacity="0.4"/>
<circle cx="1049.6" cy="198.4" r="0.94" fill="#aadc78" opacity="0.4"/>
<ellipse cx="1074.1" cy="220.9" rx="13.7" ry="15.2" fill="url(#lfn00)" transform="rotate(-20 1074.1 220.9)"/>
<circle cx="1072.8" cy="218.5" r="1.05" fill="#aadc78" opacity="0.22"/>
<circle cx="1067.9" cy="211.9" r="1.11" fill="#aadc78" opacity="0.22"/>
<circle cx="1073.0" cy="226.6" r="1.03" fill="#aadc78" opacity="0.22"/>
</g>
<rect x="974.3" y="131.5" width="163.1" height="123.2" fill="none" stroke="#1c1c1c" stroke-width="0.9" opacity="0.85"/>
</g>
<g clip-path="url(#cp01)">
<rect x="1146.0" y="131.1" width="163.9" height="124.0" fill="url(#bg01)"/>
<g filter="url(#shad)" opacity="0.42">
<ellipse cx="1225.8" cy="178.8" rx="11.7" ry="9.9" fill="#1a1a1a" transform="rotate(10 1225.8 178.8)"/>
<ellipse cx="1223.7" cy="192.0" rx="9.1" ry="9.1" fill="#1a1a1a"/>
<ellipse cx="1255.7" cy="186.4" rx="10.6" ry="13.2" fill="#1a1a1a" transform="rotate(10 1255.7 186.4)"/>
<ellipse cx="1200.9" cy="209.2" rx="14.2" ry="13.2" fill="#1a1a1a"/>
<ellipse cx="1246.6" cy="209.2" rx="11.7" ry="10.6" fill="#1a1a1a"/>
<ellipse cx="1227.3" cy="207.2" rx="4.6" ry="4.6" fill="#1a1a1a"/>
<ellipse cx="1234.4" cy="223.0" rx="9.1" ry="9.9" fill="#1a1a1a" transform="rotate(15 1234.4 223.0)"/>
</g>
<g filter="url(#soft2)">
<circle cx="1222.2" cy="139.2" r="1.02" fill="#d8d8d8" opacity="0.56"/>
<circle cx="1231.2" cy="142.4" r="0.81" fill="#d8d8d8" opacity="0.42"/>
<circle cx="1218.7" cy="225.3" r="0.91" fill="#d8d8d8" opacity="0.49"/>
<circle cx="1264.9" cy="241.4" r="0.91" fill="#d8d8d8" opacity="0.42"/>
<circle cx="1150.3" cy="142.2" r="0.81" fill="#d8d8d8" opacity="0.28"/>
<circle cx="1167.7" cy="161.3" r="0.81" fill="#d8d8d8" opacity="0.28"/>
<circle cx="1198.5" cy="169.8" r="0.81" fill="#d8d8d8" opacity="0.28"/>
<circle cx="1192.8" cy="220.4" r="0.81" fill="#d8d8d8" opacity="0.35"/>
<path d="M1196.3 176.2 Q1204.9 182.8 1207.2 185.9 Q1209.5 188.9 1210.3 192.0 Q1211.0 195.0 1221.2 200.1" fill="none" stroke="#8f877c" stroke-width="1.37" stroke-linecap="round" opacity="0.56"/>
<path d="M1236.4 184.4 L1243.5 191.5" fill="none" stroke="#8f877c" stroke-width="1.37" stroke-linecap="round" opacity="0.48"/>
<path d="M1261.8 197.1 L1269.4 205.2" fill="none" stroke="#8f877c" stroke-width="1.37" stroke-linecap="round" opacity="0.48"/>
</g>
<g filter="url(#soft)">
<line x1="1228.8" y1="201.1" x2="1225.8" y2="178.8" stroke="#9ece45" stroke-width="1.83" stroke-linecap="round"/>
<line x1="1228.8" y1="201.1" x2="1223.7" y2="192.0" stroke="#86bd37" stroke-width="1.83" stroke-linecap="round"/>
<line x1="1228.8" y1="201.1" x2="1255.7" y2="186.4" stroke="#86bd37" stroke-width="1.83" stroke-linecap="round"/>
<line x1="1228.8" y1="201.1" x2="1200.9" y2="209.2" stroke="#86bd37" stroke-width="1.83" stroke-linecap="round"/>
<line x1="1228.8" y1="201.1" x2="1246.6" y2="209.2" stroke="#86bd37" stroke-width="1.83" stroke-linecap="round"/>
<line x1="1228.8" y1="201.1" x2="1227.3" y2="207.2" stroke="#86bd37" stroke-width="1.83" stroke-linecap="round"/>
<line x1="1228.8" y1="201.1" x2="1234.4" y2="223.0" stroke="#9ece45" stroke-width="1.83" stroke-linecap="round"/>
<line x1="1214.1" y1="205.2" x2="1228.3" y2="200.1" stroke="#86bd37" stroke-width="1.95" stroke-linecap="round"/>
<line x1="1228.3" y1="200.1" x2="1246.6" y2="192.0" stroke="#86bd37" stroke-width="1.95" stroke-linecap="round"/>
<line x1="1228.3" y1="202.1" x2="1233.4" y2="215.3" stroke="#86bd37" stroke-width="2.11" stroke-linecap="round"/>
<line x1="1230.3" y1="202.1" x2="1238.5" y2="206.2" stroke="#86bd37" stroke-width="1.63" stroke-linecap="round"/>
<ellipse cx="1225.8" cy="178.8" rx="10.7" ry="8.9" fill="url(#lfl01)" transform="rotate(10 1225.8 178.8)"/>
<circle cx="1230.3" cy="179.3" r="0.78" fill="#aadc78" opacity="0.22"/>
<circle cx="1227.2" cy="179.9" r="1.08" fill="#aadc78" opacity="0.22"/>
<circle cx="1228.0" cy="180.7" r="0.90" fill="#aadc78" opacity="0.22"/>
<ellipse cx="1223.7" cy="192.0" rx="8.1" ry="8.1" fill="url(#lfd01)"/>
<circle cx="1224.8" cy="190.8" r="0.92" fill="#aadc78" opacity="0.4"/>
<circle cx="1218.5" cy="190.3" r="1.11" fill="#aadc78" opacity="0.4"/>
<circle cx="1225.4" cy="190.0" r="0.91" fill="#aadc78" opacity="0.4"/>
<circle cx="1220.2" cy="196.3" r="1.18" fill="#aadc78" opacity="0.4"/>
<circle cx="1224.9" cy="193.7" r="0.82" fill="#aadc78" opacity="0.4"/>
<circle cx="1224.1" cy="195.5" r="0.99" fill="#aadc78" opacity="0.4"/>
<circle cx="1223.6" cy="193.2" r="0.91" fill="#aadc78" opacity="0.4"/>
<ellipse cx="1255.7" cy="186.4" rx="9.6" ry="12.2" fill="url(#lfn01)" transform="rotate(10 1255.7 186.4)"/>
<circle cx="1252.5" cy="190.8" r="1.18" fill="#aadc78" opacity="0.22"/>
<circle cx="1254.1" cy="181.2" r="1.01" fill="#aadc78" opacity="0.22"/>
<circle cx="1254.9" cy="184.4" r="1.15" fill="#aadc78" opacity="0.22"/>
<ellipse cx="1200.9" cy="209.2" rx="13.2" ry="12.2" fill="url(#lfn01)"/>
<circle cx="1202.5" cy="201.2" r="1.10" fill="#aadc78" opacity="0.22"/>
<circle cx="1196.9" cy="212.2" r="0.75" fill="#aadc78" opacity="0.22"/>
<circle cx="1199.2" cy="207.5" r="0.73" fill="#aadc78" opacity="0.22"/>
<ellipse cx="1246.6" cy="209.2" rx="10.7" ry="9.6" fill="url(#lfd01)"/>
<circle cx="1247.3" cy="211.6" r="0.87" fill="#aadc78" opacity="0.4"/>
<circle cx="1248.1" cy="209.7" r="0.78" fill="#aadc78" opacity="0.4"/>
<circle cx="1249.7" cy="211.4" r="0.71" fill="#aadc78" opacity="0.4"/>
<circle cx="1250.5" cy="205.7" r="0.77" fill="#aadc78" opacity="0.4"/>
<circle cx="1246.5" cy="212.7" r="0.88" fill="#aadc78" opacity="0.4"/>
<circle cx="1251.6" cy="213.7" r="1.20" fill="#aadc78" opacity="0.4"/>
<circle cx="1242.0" cy="210.1" r="0.74" fill="#aadc78" opacity="0.4"/>
<ellipse cx="1227.3" cy="207.2" rx="3.6" ry="3.6" fill="url(#lfd01)"/>
<circle cx="1228.3" cy="208.0" r="0.83" fill="#aadc78" opacity="0.4"/>
<circle cx="1227.7" cy="206.4" r="0.71" fill="#aadc78" opacity="0.4"/>
<circle cx="1228.9" cy="206.7" r="0.77" fill="#aadc78" opacity="0.4"/>
<ellipse cx="1234.4" cy="223.0" rx="8.1" ry="8.9" fill="url(#lfl01)" transform="rotate(15 1234.4 223.0)"/>
<circle cx="1233.1" cy="222.6" r="0.96" fill="#aadc78" opacity="0.22"/>
<circle cx="1239.8" cy="222.2" r="1.05" fill="#aadc78" opacity="0.22"/>
<circle cx="1234.2" cy="226.3" r="0.78" fill="#aadc78" opacity="0.22"/>
</g>
<rect x="1146.4" y="131.5" width="163.1" height="123.2" fill="none" stroke="#1c1c1c" stroke-width="0.9" opacity="0.85"/>
</g>
<g clip-path="url(#cp02)">
<rect x="1318.1" y="131.1" width="163.9" height="124.0" fill="url(#bg02)"/>
<g filter="url(#shad)" opacity="0.42">
<ellipse cx="1397.3" cy="167.1" rx="10.1" ry="7.9" fill="#1a1a1a"/>
<ellipse cx="1387.1" cy="188.4" rx="8.1" ry="9.1" fill="#1a1a1a"/>
<ellipse cx="1388.6" cy="188.9" rx="5.1" ry="6.1" fill="#1a1a1a"/>
<ellipse cx="1414.0" cy="195.0" rx="7.9" ry="8.9" fill="#1a1a1a" transform="rotate(-20 1414.0 195.0)"/>
<ellipse cx="1411.0" cy="185.9" rx="6.6" ry="6.6" fill="#1a1a1a"/>
<ellipse cx="1393.2" cy="218.9" rx="11.0" ry="11.2" fill="#1a1a1a"/>
<ellipse cx="1401.8" cy="197.1" rx="4.0" ry="4.0" fill="#1a1a1a"/>
</g>
<g filter="url(#soft2)">
<circle cx="1373.4" cy="139.5" r="0.91" fill="#d8d8d8" opacity="0.28"/>
<circle cx="1436.4" cy="139.2" r="0.81" fill="#d8d8d8" opacity="0.42"/>
<circle cx="1430.3" cy="147.3" r="1.02" fill="#d8d8d8" opacity="0.49"/>
<circle cx="1455.2" cy="195.3" r="0.91" fill="#d8d8d8" opacity="0.35"/>
<circle cx="1453.6" cy="207.0" r="0.81" fill="#d8d8d8" opacity="0.28"/>
<circle cx="1418.1" cy="240.0" r="1.02" fill="#d8d8d8" opacity="0.49"/>
<circle cx="1387.9" cy="233.1" r="0.81" fill="#d8d8d8" opacity="0.28"/>
<circle cx="1467.3" cy="217.9" r="0.81" fill="#d8d8d8" opacity="0.21"/>
<path d="M1377.5 201.1 Q1387.1 198.1 1397.3 195.0" fill="none" stroke="#b0a0a0" stroke-width="1.83" stroke-linecap="round" opacity="0.48"/>
<path d="M1404.4 175.7 L1410.5 168.6" fill="none" stroke="#908888" stroke-width="1.52" stroke-linecap="round" opacity="0.40"/>
<path d="M1358.7 168.1 Q1363.7 159.5 1367.8 153.4" fill="none" stroke="#909090" stroke-width="1.22" stroke-linecap="round" opacity="0.32"/>
<path d="M1402.3 203.1 Q1406.4 206.2 1408.4 202.1" fill="none" stroke="#b0b0b0" stroke-width="1.22" stroke-linecap="round" opacity="0.48"/>
</g>
<g filter="url(#soft)">
<line x1="1400.8" y1="195.0" x2="1397.3" y2="167.1" stroke="#80b434" stroke-width="1.83" stroke-linecap="round"/>
<line x1="1400.8" y1="195.0" x2="1387.1" y2="188.4" stroke="#96c442" stroke-width="1.83" stroke-linecap="round"/>
<line x1="1400.8" y1="195.0" x2="1388.6" y2="188.9" stroke="#80b434" stroke-width="1.83" stroke-linecap="round"/>
<line x1="1400.8" y1="195.0" x2="1414.0" y2="195.0" stroke="#96c442" stroke-width="1.83" stroke-linecap="round"/>
<line x1="1400.8" y1="195.0" x2="1411.0" y2="185.9" stroke="#80b434" stroke-width="1.83" stroke-linecap="round"/>
<line x1="1400.8" y1="195.0" x2="1393.2" y2="218.9" stroke="#80b434" stroke-width="1.83" stroke-linecap="round"/>
<line x1="1400.8" y1="195.0" x2="1401.8" y2="197.1" stroke="#80b434" stroke-width="1.83" stroke-linecap="round"/>
<line x1="1400.8" y1="172.7" x2="1401.3" y2="192.0" stroke="#80b434" stroke-width="1.63" stroke-linecap="round"/>
<line x1="1399.8" y1="200.1" x2="1396.2" y2="210.3" stroke="#80b434" stroke-width="1.63" stroke-linecap="round"/>
<line x1="1405.4" y1="194.0" x2="1401.3" y2="195.0" stroke="#80b434" stroke-width="1.46" stroke-linecap="round"/>
<ellipse cx="1397.3" cy="167.1" rx="9.1" ry="6.9" fill="url(#lfn02)"/>
<circle cx="1397.8" cy="163.9" r="1.09" fill="#aadc78" opacity="0.22"/>
<circle cx="1396.0" cy="168.8" r="1.11" fill="#aadc78" opacity="0.22"/>
<circle cx="1403.3" cy="166.7" r="1.10" fill="#aadc78" opacity="0.22"/>
<ellipse cx="1387.1" cy="188.4" rx="7.1" ry="8.1" fill="url(#lfy02)"/>
<circle cx="1388.9" cy="184.0" r="0.81" fill="#aadc78" opacity="0.22"/>
<circle cx="1384.5" cy="188.1" r="0.71" fill="#aadc78" opacity="0.22"/>
<circle cx="1389.3" cy="188.9" r="0.83" fill="#aadc78" opacity="0.22"/>
<ellipse cx="1388.6" cy="188.9" rx="4.1" ry="5.1" fill="url(#lfk02)"/>
<circle cx="1387.6" cy="185.5" r="0.92" fill="#aadc78" opacity="0.4"/>
<circle cx="1391.4" cy="187.5" r="1.18" fill="#aadc78" opacity="0.4"/>
<circle cx="1387.9" cy="190.0" r="0.81" fill="#aadc78" opacity="0.4"/>
<ellipse cx="1414.0" cy="195.0" rx="6.9" ry="7.9" fill="url(#lfy02)" transform="rotate(-20 1414.0 195.0)"/>
<circle cx="1414.6" cy="197.1" r="1.01" fill="#aadc78" opacity="0.22"/>
<circle cx="1417.7" cy="192.0" r="0.94" fill="#aadc78" opacity="0.22"/>
<circle cx="1411.5" cy="190.9" r="0.74" fill="#aadc78" opacity="0.22"/>
<ellipse cx="1411.0" cy="185.9" rx="5.6" ry="5.6" fill="url(#lfk02)"/>
<circle cx="1408.9" cy="182.6" r="1.09" fill="#aadc78" opacity="0.4"/>
<circle cx="1411.0" cy="183.4" r="0.79" fill="#aadc78" opacity="0.4"/>
<circle cx="1411.4" cy="184.0" r="1.10" fill="#aadc78" opacity="0.4"/>
<ellipse cx="1393.2" cy="218.9" rx="10.0" ry="10.2" fill="url(#lfn02)"/>
<circle cx="1397.0" cy="218.2" r="0.90" fill="#aadc78" opacity="0.22"/>
<circle cx="1398.7" cy="216.9" r="0.79" fill="#aadc78" opacity="0.22"/>
<circle cx="1394.9" cy="220.6" r="1.15" fill="#aadc78" opacity="0.22"/>
<ellipse cx="1401.8" cy="197.1" rx="3.0" ry="3.0" fill="url(#lfk02)"/>
<circle cx="1402.1" cy="196.4" r="1.11" fill="#aadc78" opacity="0.4"/>
<circle cx="1403.5" cy="196.8" r="0.88" fill="#aadc78" opacity="0.4"/>
<circle cx="1401.2" cy="196.8" r="0.71" fill="#aadc78" opacity="0.4"/>
</g>
<rect x="1318.5" y="131.5" width="163.1" height="123.2" fill="none" stroke="#1c1c1c" stroke-width="0.9" opacity="0.85"/>
</g>
<g clip-path="url(#cp03)">
<rect x="1490.2" y="131.1" width="163.79999999999995" height="124.0" fill="url(#bg03)"/>
<g filter="url(#shad)" opacity="0.42">
<ellipse cx="1567.3" cy="180.2" rx="10.0" ry="7.8" fill="#1a1a1a" transform="rotate(-15 1567.3 180.2)"/>
<ellipse cx="1553.7" cy="197.7" rx="8.0" ry="9.2" fill="#1a1a1a" transform="rotate(-15 1553.7 197.7)"/>
<ellipse cx="1590.9" cy="186.7" rx="5.8" ry="8.5" fill="#1a1a1a" transform="rotate(10 1590.9 186.7)"/>
<ellipse cx="1576.8" cy="203.8" rx="9.8" ry="7.2" fill="#1a1a1a" transform="rotate(-20 1576.8 203.8)"/>
<ellipse cx="1579.8" cy="189.7" rx="5.0" ry="5.2" fill="#1a1a1a"/>
</g>
<g filter="url(#soft2)">
<circle cx="1637.0" cy="137.0" r="0.90" fill="#d8d8d8" opacity="0.28"/>
<circle cx="1627.8" cy="143.1" r="0.80" fill="#d8d8d8" opacity="0.35"/>
<circle cx="1640.5" cy="187.0" r="0.90" fill="#d8d8d8" opacity="0.35"/>
<circle cx="1637.0" cy="193.5" r="0.80" fill="#d8d8d8" opacity="0.35"/>
<circle cx="1648.4" cy="194.2" r="1.00" fill="#d8d8d8" opacity="0.28"/>
<circle cx="1631.7" cy="215.8" r="0.90" fill="#d8d8d8" opacity="0.49"/>
<circle cx="1524.6" cy="236.4" r="0.90" fill="#d8d8d8" opacity="0.35"/>
<circle cx="1551.0" cy="232.4" r="0.80" fill="#d8d8d8" opacity="0.21"/>
</g>
<g filter="url(#soft)">
<line x1="1573.8" y1="192.2" x2="1567.3" y2="180.2" stroke="#96c442" stroke-width="1.81" stroke-linecap="round"/>
<line x1="1573.8" y1="192.2" x2="1553.7" y2="197.7" stroke="#96c442" stroke-width="1.81" stroke-linecap="round"/>
<line x1="1573.8" y1="192.2" x2="1590.9" y2="186.7" stroke="#96c442" stroke-width="1.81" stroke-linecap="round"/>
<line x1="1573.8" y1="192.2" x2="1576.8" y2="203.8" stroke="#96c442" stroke-width="1.81" stroke-linecap="round"/>
<line x1="1573.8" y1="192.2" x2="1579.8" y2="189.7" stroke="#80b434" stroke-width="1.81" stroke-linecap="round"/>
<line x1="1560.3" y1="197.2" x2="1573.3" y2="191.7" stroke="#80b434" stroke-width="2.41" stroke-linecap="round"/>
<line x1="1573.3" y1="191.7" x2="1588.4" y2="188.2" stroke="#80b434" stroke-width="1.77" stroke-linecap="round"/>
<line x1="1573.3" y1="193.2" x2="1575.3" y2="201.3" stroke="#80b434" stroke-width="1.93" stroke-linecap="round"/>
<line x1="1571.3" y1="185.2" x2="1573.3" y2="191.2" stroke="#80b434" stroke-width="1.93" stroke-linecap="round"/>
<ellipse cx="1567.3" cy="180.2" rx="9.0" ry="6.8" fill="url(#lfy03)" transform="rotate(-15 1567.3 180.2)"/>
<circle cx="1572.1" cy="179.5" r="0.96" fill="#aadc78" opacity="0.22"/>
<circle cx="1570.7" cy="179.0" r="1.14" fill="#aadc78" opacity="0.22"/>
<circle cx="1568.4" cy="178.5" r="0.83" fill="#aadc78" opacity="0.22"/>
<ellipse cx="1553.7" cy="197.7" rx="7.0" ry="8.2" fill="url(#lfy03)" transform="rotate(-15 1553.7 197.7)"/>
<circle cx="1553.2" cy="200.1" r="0.99" fill="#aadc78" opacity="0.22"/>
<circle cx="1553.6" cy="201.0" r="0.77" fill="#aadc78" opacity="0.22"/>
<circle cx="1555.9" cy="196.1" r="0.93" fill="#aadc78" opacity="0.22"/>
<ellipse cx="1590.9" cy="186.7" rx="4.8" ry="7.5" fill="url(#lfy03)" transform="rotate(10 1590.9 186.7)"/>
<circle cx="1588.0" cy="184.1" r="0.91" fill="#aadc78" opacity="0.22"/>
<circle cx="1592.8" cy="185.0" r="0.97" fill="#aadc78" opacity="0.22"/>
<circle cx="1590.1" cy="186.5" r="0.92" fill="#aadc78" opacity="0.22"/>
<ellipse cx="1576.8" cy="203.8" rx="8.8" ry="6.2" fill="url(#lfy03)" transform="rotate(-20 1576.8 203.8)"/>
<circle cx="1577.4" cy="204.6" r="1.10" fill="#aadc78" opacity="0.22"/>
<circle cx="1578.6" cy="206.2" r="1.06" fill="#aadc78" opacity="0.22"/>
<circle cx="1574.0" cy="203.0" r="0.96" fill="#aadc78" opacity="0.22"/>
<ellipse cx="1579.8" cy="189.7" rx="4.0" ry="4.2" fill="url(#lfn03)"/>
<circle cx="1577.5" cy="188.8" r="0.75" fill="#aadc78" opacity="0.22"/>
</g>
<rect x="1490.6000000000001" y="131.5" width="162.99999999999994" height="123.2" fill="none" stroke="#1c1c1c" stroke-width="0.9" opacity="0.85"/>
</g>
<g clip-path="url(#cp10)">
<rect x="973.9" y="278.2" width="163.9" height="124.0" fill="url(#bg10)"/>
<g filter="url(#shad)" opacity="0.42">
<ellipse cx="1025.6" cy="324.2" rx="16.4" ry="17.0" fill="#1a1a1a" transform="rotate(-30 1025.6 324.2)"/>
<ellipse cx="1061.4" cy="334.4" rx="12.7" ry="11.5" fill="#1a1a1a" transform="rotate(-20 1061.4 334.4)"/>
<ellipse cx="1086.8" cy="358.8" rx="11.5" ry="16.2" fill="#1a1a1a" transform="rotate(-10 1086.8 358.8)"/>
<ellipse cx="1032.7" cy="360.3" rx="12.7" ry="12.2" fill="#1a1a1a"/>
<ellipse cx="1053.8" cy="361.8" rx="10.3" ry="11.2" fill="#1a1a1a"/>
</g>
<g filter="url(#soft2)">
<circle cx="1102.7" cy="284.3" r="1.22" fill="#d8d8d8" opacity="0.66"/>
<circle cx="1117.9" cy="302.9" r="0.91" fill="#d8d8d8" opacity="0.42"/>
<circle cx="983.9" cy="326.1" r="0.91" fill="#d8d8d8" opacity="0.42"/>
<circle cx="1129.7" cy="351.0" r="1.12" fill="#d8d8d8" opacity="0.56"/>
<circle cx="1102.9" cy="375.6" r="1.02" fill="#d8d8d8" opacity="0.56"/>
<circle cx="1096.3" cy="389.0" r="1.12" fill="#d8d8d8" opacity="0.56"/>
<circle cx="1131.5" cy="399.4" r="1.12" fill="#d8d8d8" opacity="0.56"/>
<circle cx="1001.5" cy="346.8" r="0.81" fill="#d8d8d8" opacity="0.21"/>
<circle cx="1116.2" cy="343.0" r="0.81" fill="#d8d8d8" opacity="0.21"/>
<path d="M1041.1 320.7 Q1045.1 317.1 1048.2 316.9 Q1051.2 316.6 1057.3 323.7" fill="none" stroke="#857c74" stroke-width="1.22" stroke-linecap="round" opacity="0.64"/>
<path d="M1046.1 314.6 Q1053.3 310.0 1057.3 309.5 Q1061.4 309.0 1065.4 311.8 Q1069.5 314.6 1074.1 317.1 Q1078.7 319.7 1082.7 322.2 Q1086.8 324.8 1090.3 328.8 Q1093.9 332.9 1098.5 341.0" fill="none" stroke="#77706a" stroke-width="1.22" stroke-linecap="round" opacity="0.56"/>
<path d="M992.3 320.7 Q1002.5 310.5 1013.6 309.5" fill="none" stroke="#7a7a78" stroke-width="1.07" stroke-linecap="round" opacity="0.48"/>
<path d="M990.8 323.7 Q998.4 334.9 1004.5 337.5 Q1010.6 340.0 1015.7 341.5 Q1020.8 343.0 1032.9 349.1" fill="none" stroke="#7a7672" stroke-width="1.22" stroke-linecap="round" opacity="0.56"/>
<path d="M1047.2 309.5 Q1052.2 298.3 1055.3 294.3 Q1058.3 290.2 1062.4 289.0 Q1066.5 287.7 1070.0 287.9 Q1073.6 288.2 1082.7 293.8" fill="none" stroke="#6c6a68" stroke-width="1.07" stroke-linecap="round" opacity="0.48"/>
<path d="M1038.0 349.1 Q1043.1 346.1 1045.1 341.0" fill="none" stroke="#807a74" stroke-width="1.22" stroke-linecap="round" opacity="0.56"/>
</g>
<g filter="url(#soft)">
<line x1="1051.2" y1="346.1" x2="1025.6" y2="324.2" stroke="#7caf32" stroke-width="1.83" stroke-linecap="round"/>
<line x1="1051.2" y1="346.1" x2="1061.4" y2="334.4" stroke="#7caf32" stroke-width="1.83" stroke-linecap="round"/>
<line x1="1051.2" y1="346.1" x2="1086.8" y2="358.8" stroke="#7caf32" stroke-width="1.83" stroke-linecap="round"/>
<line x1="1051.2" y1="346.1" x2="1032.7" y2="360.3" stroke="#7caf32" stroke-width="1.83" stroke-linecap="round"/>
<line x1="1051.2" y1="346.1" x2="1053.8" y2="361.8" stroke="#7caf32" stroke-width="1.83" stroke-linecap="round"/>
<line x1="1039.0" y1="331.4" x2="1050.2" y2="343.0" stroke="#7caf32" stroke-width="2.28" stroke-linecap="round"/>
<line x1="1055.3" y1="346.6" x2="1077.6" y2="353.2" stroke="#7caf32" stroke-width="2.28" stroke-linecap="round"/>
<line x1="1042.1" y1="353.2" x2="1049.2" y2="347.1" stroke="#7caf32" stroke-width="2.11" stroke-linecap="round"/>
<ellipse cx="1025.6" cy="324.2" rx="15.4" ry="16.0" fill="url(#lfn10)" transform="rotate(-30 1025.6 324.2)"/>
<circle cx="1021.3" cy="322.5" r="0.84" fill="#aadc78" opacity="0.22"/>
<circle cx="1026.6" cy="317.0" r="0.98" fill="#aadc78" opacity="0.22"/>
<circle cx="1026.3" cy="313.1" r="0.92" fill="#aadc78" opacity="0.22"/>
<ellipse cx="1061.4" cy="334.4" rx="11.7" ry="10.5" fill="url(#lfn10)" transform="rotate(-20 1061.4 334.4)"/>
<circle cx="1057.4" cy="331.3" r="0.96" fill="#aadc78" opacity="0.22"/>
<circle cx="1059.7" cy="330.3" r="0.97" fill="#aadc78" opacity="0.22"/>
<circle cx="1053.1" cy="335.4" r="1.05" fill="#aadc78" opacity="0.22"/>
<ellipse cx="1086.8" cy="358.8" rx="10.5" ry="15.2" fill="url(#lfn10)" transform="rotate(-10 1086.8 358.8)"/>
<circle cx="1092.1" cy="351.2" r="0.83" fill="#aadc78" opacity="0.22"/>
<circle cx="1079.8" cy="354.8" r="1.12" fill="#aadc78" opacity="0.22"/>
<circle cx="1088.3" cy="361.4" r="0.92" fill="#aadc78" opacity="0.22"/>
<ellipse cx="1032.7" cy="360.3" rx="11.7" ry="11.2" fill="url(#lfn10)"/>
<circle cx="1035.8" cy="361.8" r="0.74" fill="#aadc78" opacity="0.22"/>
<circle cx="1029.2" cy="354.2" r="1.15" fill="#aadc78" opacity="0.22"/>
<circle cx="1036.6" cy="365.7" r="1.03" fill="#aadc78" opacity="0.22"/>
<ellipse cx="1053.8" cy="361.8" rx="9.3" ry="10.2" fill="url(#lfd10)"/>
<circle cx="1057.7" cy="367.2" r="1.18" fill="#aadc78" opacity="0.4"/>
<circle cx="1055.0" cy="369.0" r="0.90" fill="#aadc78" opacity="0.4"/>
<circle cx="1046.8" cy="362.4" r="1.12" fill="#aadc78" opacity="0.4"/>
<circle cx="1055.8" cy="365.4" r="0.96" fill="#aadc78" opacity="0.4"/>
<circle cx="1052.4" cy="364.1" r="0.86" fill="#aadc78" opacity="0.4"/>
<circle cx="1053.5" cy="360.2" r="0.98" fill="#aadc78" opacity="0.4"/>
<circle cx="1052.4" cy="362.4" r="0.87" fill="#aadc78" opacity="0.4"/>
</g>
<rect x="974.3" y="278.59999999999997" width="163.1" height="123.2" fill="none" stroke="#1c1c1c" stroke-width="0.9" opacity="0.85"/>
</g>
<g clip-path="url(#cp11)">
<rect x="1146.0" y="278.2" width="163.9" height="124.0" fill="url(#bg11)"/>
<g filter="url(#shad)" opacity="0.42">
<ellipse cx="1230.8" cy="322.2" rx="11.2" ry="9.1" fill="#1a1a1a"/>
<ellipse cx="1220.7" cy="331.9" rx="10.6" ry="9.6" fill="#1a1a1a"/>
<ellipse cx="1263.9" cy="337.5" rx="14.7" ry="15.2" fill="#1a1a1a" transform="rotate(20 1263.9 337.5)"/>
<ellipse cx="1196.8" cy="351.2" rx="14.0" ry="15.2" fill="#1a1a1a" transform="rotate(30 1196.8 351.2)"/>
<ellipse cx="1230.3" cy="346.6" rx="9.6" ry="7.1" fill="#1a1a1a"/>
<ellipse cx="1237.4" cy="364.9" rx="11.7" ry="11.7" fill="#1a1a1a"/>
</g>
<g filter="url(#soft2)">
<path d="M1225.3 365.4 Q1217.1 365.4 1215.6 367.9 Q1214.1 370.5 1214.1 373.5 Q1214.1 376.6 1210.5 379.6 Q1207.0 382.7 1206.7 386.2 Q1206.5 389.8 1207.5 396.9" fill="none" stroke="#8a8a8a" stroke-width="1.37" stroke-linecap="round" opacity="0.56"/>
<path d="M1229.3 373.5 Q1219.2 377.6 1215.1 379.6 Q1211.0 381.6 1206.0 385.2 Q1200.9 388.7 1196.8 390.8 Q1192.8 392.8 1187.2 391.8 Q1181.6 390.8 1172.4 375.5" fill="none" stroke="#666" stroke-width="1.22" stroke-linecap="round" opacity="0.48"/>
<path d="M1236.4 350.1 Q1240.5 352.2 1241.5 355.2" fill="none" stroke="#bbb" stroke-width="1.37" stroke-linecap="round" opacity="0.56"/>
<path d="M1192.2 279.0 L1192.2 400.9" fill="none" stroke="#555" stroke-width="0.91" stroke-linecap="round" opacity="0.40"/>
</g>
<g filter="url(#soft)">
<line x1="1230.3" y1="342.0" x2="1230.8" y2="322.2" stroke="#7caf32" stroke-width="1.83" stroke-linecap="round"/>
<line x1="1230.3" y1="342.0" x2="1220.7" y2="331.9" stroke="#7caf32" stroke-width="1.83" stroke-linecap="round"/>
<line x1="1230.3" y1="342.0" x2="1263.9" y2="337.5" stroke="#7caf32" stroke-width="1.83" stroke-linecap="round"/>
<line x1="1230.3" y1="342.0" x2="1196.8" y2="351.2" stroke="#7caf32" stroke-width="1.83" stroke-linecap="round"/>
<line x1="1230.3" y1="342.0" x2="1230.3" y2="346.6" stroke="#7caf32" stroke-width="1.83" stroke-linecap="round"/>
<line x1="1230.3" y1="342.0" x2="1237.4" y2="364.9" stroke="#7caf32" stroke-width="1.83" stroke-linecap="round"/>
<line x1="1209.0" y1="347.1" x2="1223.2" y2="345.1" stroke="#7caf32" stroke-width="2.28" stroke-linecap="round"/>
<line x1="1235.4" y1="342.0" x2="1251.7" y2="336.9" stroke="#7caf32" stroke-width="2.28" stroke-linecap="round"/>
<line x1="1230.3" y1="336.9" x2="1230.3" y2="343.0" stroke="#7caf32" stroke-width="2.11" stroke-linecap="round"/>
<line x1="1232.4" y1="351.2" x2="1234.4" y2="356.2" stroke="#7caf32" stroke-width="2.11" stroke-linecap="round"/>
<ellipse cx="1230.8" cy="322.2" rx="10.2" ry="8.1" fill="url(#lfm11)"/>
<circle cx="1227.5" cy="319.6" r="0.73" fill="#aadc78" opacity="0.22"/>
<circle cx="1237.1" cy="321.7" r="1.19" fill="#aadc78" opacity="0.22"/>
<circle cx="1233.3" cy="323.8" r="0.72" fill="#aadc78" opacity="0.22"/>
<ellipse cx="1220.7" cy="331.9" rx="9.6" ry="8.6" fill="url(#lfd11)"/>
<circle cx="1221.2" cy="329.2" r="0.76" fill="#aadc78" opacity="0.4"/>
<circle cx="1214.8" cy="334.7" r="1.11" fill="#aadc78" opacity="0.4"/>
<circle cx="1220.6" cy="333.9" r="1.16" fill="#aadc78" opacity="0.4"/>
<circle cx="1215.7" cy="329.8" r="0.74" fill="#aadc78" opacity="0.4"/>
<circle cx="1225.8" cy="333.6" r="0.91" fill="#aadc78" opacity="0.4"/>
<circle cx="1226.9" cy="334.6" r="1.02" fill="#aadc78" opacity="0.4"/>
<circle cx="1221.3" cy="330.2" r="1.13" fill="#aadc78" opacity="0.4"/>
<ellipse cx="1263.9" cy="337.5" rx="13.7" ry="14.2" fill="url(#lfn11)" transform="rotate(20 1263.9 337.5)"/>
<circle cx="1272.2" cy="341.3" r="0.93" fill="#aadc78" opacity="0.22"/>
<circle cx="1260.3" cy="343.3" r="1.16" fill="#aadc78" opacity="0.22"/>
<circle cx="1263.5" cy="340.7" r="0.96" fill="#aadc78" opacity="0.22"/>
<ellipse cx="1196.8" cy="351.2" rx="13.0" ry="14.2" fill="url(#lfn11)" transform="rotate(30 1196.8 351.2)"/>
<circle cx="1197.0" cy="354.2" r="0.78" fill="#aadc78" opacity="0.22"/>
<circle cx="1200.2" cy="352.4" r="0.86" fill="#aadc78" opacity="0.22"/>
<circle cx="1194.2" cy="359.3" r="0.84" fill="#aadc78" opacity="0.22"/>
<ellipse cx="1230.3" cy="346.6" rx="8.6" ry="6.1" fill="url(#lfd11)"/>
<circle cx="1228.1" cy="346.6" r="0.87" fill="#aadc78" opacity="0.4"/>
<circle cx="1232.9" cy="346.8" r="0.71" fill="#aadc78" opacity="0.4"/>
<circle cx="1229.9" cy="343.7" r="0.79" fill="#aadc78" opacity="0.4"/>
<circle cx="1224.3" cy="347.3" r="0.75" fill="#aadc78" opacity="0.4"/>
<circle cx="1231.8" cy="344.3" r="0.95" fill="#aadc78" opacity="0.4"/>
<circle cx="1232.0" cy="344.6" r="0.95" fill="#aadc78" opacity="0.4"/>
<circle cx="1227.9" cy="342.4" r="0.87" fill="#aadc78" opacity="0.4"/>
<ellipse cx="1237.4" cy="364.9" rx="10.7" ry="10.7" fill="url(#lfn11)"/>
<circle cx="1240.5" cy="359.6" r="1.02" fill="#aadc78" opacity="0.22"/>
<circle cx="1234.3" cy="367.0" r="0.73" fill="#aadc78" opacity="0.22"/>
<circle cx="1238.9" cy="366.4" r="1.07" fill="#aadc78" opacity="0.22"/>
</g>
<rect x="1146.4" y="278.59999999999997" width="163.1" height="123.2" fill="none" stroke="#1c1c1c" stroke-width="0.9" opacity="0.85"/>
</g>
<g clip-path="url(#cp12)">
<rect x="1318.1" y="278.2" width="163.9" height="124.0" fill="url(#bg12)"/>
<g filter="url(#shad)" opacity="0.42">
<ellipse cx="1395.2" cy="326.8" rx="11.2" ry="10.1" fill="#1a1a1a"/>
<ellipse cx="1429.8" cy="328.3" rx="14.5" ry="15.2" fill="#1a1a1a"/>
<ellipse cx="1369.8" cy="352.7" rx="13.5" ry="16.0" fill="#1a1a1a"/>
<ellipse cx="1397.3" cy="342.0" rx="8.1" ry="7.1" fill="#1a1a1a"/>
<ellipse cx="1413.5" cy="354.2" rx="11.2" ry="11.2" fill="#1a1a1a"/>
<ellipse cx="1410.5" cy="369.4" rx="11.7" ry="11.7" fill="#1a1a1a"/>
</g>
<g filter="url(#soft2)">
<circle cx="1349.3" cy="373.5" r="0.81" fill="#d8d8d8" opacity="0.28"/>
<path d="M1382.0 365.4 L1397.3 365.9" fill="none" stroke="#666" stroke-width="1.22" stroke-linecap="round" opacity="0.40"/>
</g>
<g filter="url(#soft)">
<line x1="1402.3" y1="345.1" x2="1395.2" y2="326.8" stroke="#88bf37" stroke-width="1.83" stroke-linecap="round"/>
<line x1="1402.3" y1="345.1" x2="1429.8" y2="328.3" stroke="#88bf37" stroke-width="1.83" stroke-linecap="round"/>
<line x1="1402.3" y1="345.1" x2="1369.8" y2="352.7" stroke="#88bf37" stroke-width="1.83" stroke-linecap="round"/>
<line x1="1402.3" y1="345.1" x2="1397.3" y2="342.0" stroke="#88bf37" stroke-width="1.83" stroke-linecap="round"/>
<line x1="1402.3" y1="345.1" x2="1413.5" y2="354.2" stroke="#88bf37" stroke-width="1.83" stroke-linecap="round"/>
<line x1="1402.3" y1="345.1" x2="1410.5" y2="369.4" stroke="#88bf37" stroke-width="1.83" stroke-linecap="round"/>
<line x1="1382.0" y1="348.6" x2="1399.3" y2="347.1" stroke="#88bf37" stroke-width="2.28" stroke-linecap="round"/>
<line x1="1405.4" y1="343.0" x2="1419.6" y2="334.4" stroke="#88bf37" stroke-width="2.28" stroke-linecap="round"/>
<ellipse cx="1395.2" cy="326.8" rx="10.2" ry="9.1" fill="url(#lfm12)"/>
<circle cx="1395.1" cy="329.1" r="0.74" fill="#aadc78" opacity="0.22"/>
<circle cx="1398.9" cy="321.6" r="1.04" fill="#aadc78" opacity="0.22"/>
<circle cx="1394.6" cy="329.4" r="0.85" fill="#aadc78" opacity="0.22"/>
<ellipse cx="1429.8" cy="328.3" rx="13.5" ry="14.2" fill="url(#lfn12)"/>
<circle cx="1426.6" cy="329.2" r="0.92" fill="#aadc78" opacity="0.22"/>
<circle cx="1428.9" cy="338.6" r="1.19" fill="#aadc78" opacity="0.22"/>
<circle cx="1425.9" cy="327.1" r="1.18" fill="#aadc78" opacity="0.22"/>
<ellipse cx="1369.8" cy="352.7" rx="12.5" ry="15.0" fill="url(#lfn12)"/>
<circle cx="1368.2" cy="357.8" r="0.70" fill="#aadc78" opacity="0.22"/>
<circle cx="1365.8" cy="357.1" r="0.95" fill="#aadc78" opacity="0.22"/>
<circle cx="1371.5" cy="359.2" r="0.70" fill="#aadc78" opacity="0.22"/>
<ellipse cx="1397.3" cy="342.0" rx="7.1" ry="6.1" fill="url(#lfn12)"/>
<circle cx="1397.1" cy="343.3" r="0.90" fill="#aadc78" opacity="0.22"/>
<circle cx="1398.4" cy="342.3" r="0.85" fill="#aadc78" opacity="0.22"/>
<circle cx="1397.6" cy="345.1" r="0.96" fill="#aadc78" opacity="0.22"/>
<ellipse cx="1413.5" cy="354.2" rx="10.2" ry="10.2" fill="url(#lfd12)"/>
<circle cx="1413.5" cy="348.7" r="1.06" fill="#aadc78" opacity="0.4"/>
<circle cx="1416.3" cy="351.5" r="0.86" fill="#aadc78" opacity="0.4"/>
<circle cx="1415.9" cy="354.0" r="1.06" fill="#aadc78" opacity="0.4"/>
<circle cx="1412.4" cy="352.8" r="1.12" fill="#aadc78" opacity="0.4"/>
<circle cx="1417.7" cy="350.9" r="1.07" fill="#aadc78" opacity="0.4"/>
<circle cx="1414.4" cy="352.0" r="0.96" fill="#aadc78" opacity="0.4"/>
<circle cx="1406.9" cy="354.0" r="1.10" fill="#aadc78" opacity="0.4"/>
<ellipse cx="1410.5" cy="369.4" rx="10.7" ry="10.7" fill="url(#lfn12)"/>
<circle cx="1412.9" cy="364.7" r="1.15" fill="#aadc78" opacity="0.22"/>
<circle cx="1408.0" cy="363.9" r="0.81" fill="#aadc78" opacity="0.22"/>
<circle cx="1412.9" cy="369.9" r="0.88" fill="#aadc78" opacity="0.22"/>
</g>
<rect x="1318.5" y="278.59999999999997" width="163.1" height="123.2" fill="none" stroke="#1c1c1c" stroke-width="0.9" opacity="0.85"/>
</g>
<g clip-path="url(#cp13)">
<rect x="1490.2" y="278.2" width="163.79999999999995" height="124.0" fill="url(#bg13)"/>
<g filter="url(#shad)" opacity="0.42">
<ellipse cx="1576.3" cy="314.6" rx="10.0" ry="8.5" fill="#1a1a1a"/>
<ellipse cx="1584.3" cy="320.7" rx="10.5" ry="10.5" fill="#1a1a1a"/>
<ellipse cx="1544.2" cy="340.7" rx="13.0" ry="15.1" fill="#1a1a1a"/>
<ellipse cx="1612.4" cy="336.7" rx="13.0" ry="14.0" fill="#1a1a1a"/>
<ellipse cx="1579.8" cy="344.7" rx="9.0" ry="8.5" fill="#1a1a1a"/>
<ellipse cx="1573.3" cy="333.7" rx="4.5" ry="4.5" fill="#1a1a1a"/>
<ellipse cx="1577.8" cy="360.3" rx="11.5" ry="10.5" fill="#1a1a1a"/>
</g>
<g filter="url(#soft2)">
<circle cx="1579.0" cy="288.5" r="1.10" fill="#d8d8d8" opacity="0.42"/>
<circle cx="1595.7" cy="296.8" r="1.20" fill="#d8d8d8" opacity="0.42"/>
<circle cx="1497.7" cy="312.8" r="0.90" fill="#d8d8d8" opacity="0.35"/>
<circle cx="1524.1" cy="393.4" r="0.90" fill="#d8d8d8" opacity="0.21"/>
<path d="M1584.3 335.2 L1588.4 333.2" fill="none" stroke="#aaa" stroke-width="1.81" stroke-linecap="round" opacity="0.40"/>
<path d="M1570.3 370.3 L1574.3 382.4" fill="none" stroke="#666" stroke-width="1.20" stroke-linecap="round" opacity="0.32"/>
</g>
<g filter="url(#soft)">
<line x1="1578.8" y1="337.7" x2="1576.3" y2="314.6" stroke="#88bf37" stroke-width="1.81" stroke-linecap="round"/>
<line x1="1578.8" y1="337.7" x2="1584.3" y2="320.7" stroke="#88bf37" stroke-width="1.81" stroke-linecap="round"/>
<line x1="1578.8" y1="337.7" x2="1544.2" y2="340.7" stroke="#88bf37" stroke-width="1.81" stroke-linecap="round"/>
<line x1="1578.8" y1="337.7" x2="1612.4" y2="336.7" stroke="#88bf37" stroke-width="1.81" stroke-linecap="round"/>
<line x1="1578.8" y1="337.7" x2="1579.8" y2="344.7" stroke="#88bf37" stroke-width="1.81" stroke-linecap="round"/>
<line x1="1578.8" y1="337.7" x2="1573.3" y2="333.7" stroke="#88bf37" stroke-width="1.81" stroke-linecap="round"/>
<line x1="1578.8" y1="337.7" x2="1577.8" y2="360.3" stroke="#88bf37" stroke-width="1.81" stroke-linecap="round"/>
<line x1="1555.2" y1="337.7" x2="1578.3" y2="338.2" stroke="#88bf37" stroke-width="2.25" stroke-linecap="round"/>
<line x1="1580.3" y1="337.2" x2="1601.4" y2="335.2" stroke="#88bf37" stroke-width="2.25" stroke-linecap="round"/>
<line x1="1578.3" y1="336.2" x2="1581.3" y2="328.2" stroke="#88bf37" stroke-width="2.09" stroke-linecap="round"/>
<ellipse cx="1576.3" cy="314.6" rx="9.0" ry="7.5" fill="url(#lfm13)"/>
<circle cx="1581.0" cy="317.6" r="0.98" fill="#aadc78" opacity="0.22"/>
<circle cx="1573.0" cy="311.8" r="1.04" fill="#aadc78" opacity="0.22"/>
<circle cx="1574.9" cy="314.7" r="1.10" fill="#aadc78" opacity="0.22"/>
<ellipse cx="1584.3" cy="320.7" rx="9.5" ry="9.5" fill="url(#lfd13)"/>
<circle cx="1584.3" cy="316.4" r="0.97" fill="#aadc78" opacity="0.4"/>
<circle cx="1583.4" cy="319.1" r="1.07" fill="#aadc78" opacity="0.4"/>
<circle cx="1584.3" cy="322.5" r="0.83" fill="#aadc78" opacity="0.4"/>
<circle cx="1584.0" cy="318.1" r="1.07" fill="#aadc78" opacity="0.4"/>
<circle cx="1588.6" cy="320.0" r="0.89" fill="#aadc78" opacity="0.4"/>
<circle cx="1579.1" cy="321.4" r="1.08" fill="#aadc78" opacity="0.4"/>
<circle cx="1580.6" cy="317.2" r="0.74" fill="#aadc78" opacity="0.4"/>
<ellipse cx="1544.2" cy="340.7" rx="12.0" ry="14.1" fill="url(#lfn13)"/>
<circle cx="1546.4" cy="344.1" r="1.07" fill="#aadc78" opacity="0.22"/>
<circle cx="1542.2" cy="347.2" r="0.71" fill="#aadc78" opacity="0.22"/>
<circle cx="1547.7" cy="342.4" r="1.04" fill="#aadc78" opacity="0.22"/>
<ellipse cx="1612.4" cy="336.7" rx="12.0" ry="13.0" fill="url(#lfn13)"/>
<circle cx="1610.1" cy="329.9" r="0.85" fill="#aadc78" opacity="0.22"/>
<circle cx="1607.3" cy="336.1" r="0.93" fill="#aadc78" opacity="0.22"/>
<circle cx="1618.5" cy="342.8" r="0.80" fill="#aadc78" opacity="0.22"/>
<ellipse cx="1579.8" cy="344.7" rx="8.0" ry="7.5" fill="url(#lfd13)"/>
<circle cx="1585.5" cy="344.0" r="0.71" fill="#aadc78" opacity="0.4"/>
<circle cx="1574.8" cy="346.0" r="1.18" fill="#aadc78" opacity="0.4"/>
<circle cx="1577.5" cy="345.5" r="0.80" fill="#aadc78" opacity="0.4"/>
<circle cx="1581.9" cy="344.0" r="0.99" fill="#aadc78" opacity="0.4"/>
<circle cx="1582.2" cy="347.5" r="1.18" fill="#aadc78" opacity="0.4"/>
<circle cx="1583.3" cy="348.3" r="0.95" fill="#aadc78" opacity="0.4"/>
<circle cx="1583.3" cy="341.9" r="0.82" fill="#aadc78" opacity="0.4"/>
<ellipse cx="1573.3" cy="333.7" rx="3.5" ry="3.5" fill="url(#lfn13)"/>
<circle cx="1574.5" cy="332.8" r="0.71" fill="#aadc78" opacity="0.22"/>
<ellipse cx="1577.8" cy="360.3" rx="10.5" ry="9.5" fill="url(#lfn13)"/>
<circle cx="1582.5" cy="360.4" r="0.93" fill="#aadc78" opacity="0.22"/>
<circle cx="1577.0" cy="362.4" r="0.87" fill="#aadc78" opacity="0.22"/>
<circle cx="1575.0" cy="366.0" r="0.70" fill="#aadc78" opacity="0.22"/>
</g>
<rect x="1490.6000000000001" y="278.59999999999997" width="162.99999999999994" height="123.2" fill="none" stroke="#1c1c1c" stroke-width="0.9" opacity="0.85"/>
</g>
<g clip-path="url(#cp20)">
<rect x="973.9" y="425.3" width="163.9" height="124.0" fill="url(#bg20)"/>
<g filter="url(#shad)" opacity="0.42">
<ellipse cx="1080.7" cy="472.3" rx="14.5" ry="15.5" fill="#1a1a1a" transform="rotate(30 1080.7 472.3)"/>
<ellipse cx="1051.2" cy="479.9" rx="11.2" ry="9.1" fill="#1a1a1a" transform="rotate(-20 1051.2 479.9)"/>
<ellipse cx="1026.9" cy="495.1" rx="14.0" ry="17.8" fill="#1a1a1a" transform="rotate(10 1026.9 495.1)"/>
<ellipse cx="1069.5" cy="492.1" rx="11.7" ry="11.7" fill="#1a1a1a"/>
<ellipse cx="1069.0" cy="512.4" rx="13.2" ry="12.2" fill="#1a1a1a"/>
</g>
<g filter="url(#soft2)">
<circle cx="1131.0" cy="496.3" r="1.02" fill="#d8d8d8" opacity="0.42"/>
<circle cx="1109.9" cy="491.1" r="0.91" fill="#d8d8d8" opacity="0.28"/>
<circle cx="1027.4" cy="522.5" r="0.81" fill="#d8d8d8" opacity="0.28"/>
<circle cx="1053.8" cy="527.1" r="0.81" fill="#d8d8d8" opacity="0.28"/>
<path d="M1035.0 479.9 Q1034.5 472.8 1036.8 469.7 Q1039.0 466.7 1041.8 465.7 Q1044.6 464.6 1048.9 466.2 Q1053.3 467.7 1056.3 470.2 Q1059.4 472.8 1067.5 474.8" fill="none" stroke="#a09a88" stroke-width="1.37" stroke-linecap="round" opacity="0.72"/>
<path d="M1003.5 490.0 Q1004.5 498.2 1007.0 501.7 Q1009.6 505.3 1015.2 508.3 Q1020.8 511.4 1028.9 514.4 Q1037.0 517.5 1044.1 519.5 Q1051.2 521.5 1054.3 524.1 Q1057.3 526.6 1060.4 527.9 Q1063.4 529.1 1067.0 528.1 Q1070.5 527.1 1074.1 523.8 Q1077.6 520.5 1080.7 516.4 Q1083.7 512.4 1084.7 507.3 Q1085.8 502.2 1081.7 494.1" fill="none" stroke="#9a9482" stroke-width="1.37" stroke-linecap="round" opacity="0.68"/>
<path d="M1045.1 463.6 Q1047.2 457.5 1056.3 449.4" fill="none" stroke="#807c74" stroke-width="1.22" stroke-linecap="round" opacity="0.56"/>
<path d="M1086.8 503.2 L1098.0 498.7" fill="none" stroke="#8a8680" stroke-width="1.22" stroke-linecap="round" opacity="0.56"/>
<path d="M1041.1 493.1 Q1045.1 496.1 1047.2 495.9 Q1049.2 495.6 1051.2 493.1" fill="none" stroke="#a09a88" stroke-width="1.37" stroke-linecap="round" opacity="0.72"/>
</g>
<g filter="url(#soft)">
<line x1="1057.3" y1="489.0" x2="1080.7" y2="472.3" stroke="#719e2e" stroke-width="1.83" stroke-linecap="round"/>
<line x1="1057.3" y1="489.0" x2="1051.2" y2="479.9" stroke="#719e2e" stroke-width="1.83" stroke-linecap="round"/>
<line x1="1057.3" y1="489.0" x2="1026.9" y2="495.1" stroke="#719e2e" stroke-width="1.83" stroke-linecap="round"/>
<line x1="1057.3" y1="489.0" x2="1069.5" y2="492.1" stroke="#719e2e" stroke-width="1.83" stroke-linecap="round"/>
<line x1="1057.3" y1="489.0" x2="1069.0" y2="512.4" stroke="#719e2e" stroke-width="1.83" stroke-linecap="round"/>
<line x1="1037.0" y1="491.1" x2="1051.2" y2="489.0" stroke="#719e2e" stroke-width="2.28" stroke-linecap="round"/>
<line x1="1066.5" y1="481.9" x2="1074.6" y2="476.8" stroke="#719e2e" stroke-width="1.95" stroke-linecap="round"/>
<line x1="1055.3" y1="488.0" x2="1060.4" y2="494.1" stroke="#719e2e" stroke-width="2.11" stroke-linecap="round"/>
<ellipse cx="1080.7" cy="472.3" rx="13.5" ry="14.5" fill="url(#lfk20)" transform="rotate(30 1080.7 472.3)"/>
<circle cx="1080.7" cy="462.8" r="0.76" fill="#aadc78" opacity="0.4"/>
<circle cx="1087.7" cy="468.5" r="1.15" fill="#aadc78" opacity="0.4"/>
<circle cx="1079.4" cy="477.5" r="0.90" fill="#aadc78" opacity="0.4"/>
<circle cx="1087.5" cy="472.2" r="0.88" fill="#aadc78" opacity="0.4"/>
<circle cx="1076.9" cy="474.3" r="0.72" fill="#aadc78" opacity="0.4"/>
<circle cx="1087.7" cy="477.9" r="0.84" fill="#aadc78" opacity="0.4"/>
<circle cx="1084.4" cy="470.5" r="0.83" fill="#aadc78" opacity="0.4"/>
<ellipse cx="1051.2" cy="479.9" rx="10.2" ry="8.1" fill="url(#lfk20)" transform="rotate(-20 1051.2 479.9)"/>
<circle cx="1048.6" cy="479.7" r="0.89" fill="#aadc78" opacity="0.4"/>
<circle cx="1057.9" cy="478.4" r="1.11" fill="#aadc78" opacity="0.4"/>
<circle cx="1046.4" cy="475.7" r="1.17" fill="#aadc78" opacity="0.4"/>
<circle cx="1045.6" cy="478.4" r="0.72" fill="#aadc78" opacity="0.4"/>
<circle cx="1050.8" cy="476.5" r="1.08" fill="#aadc78" opacity="0.4"/>
<circle cx="1049.2" cy="477.8" r="0.72" fill="#aadc78" opacity="0.4"/>
<circle cx="1053.3" cy="479.1" r="0.94" fill="#aadc78" opacity="0.4"/>
<ellipse cx="1026.9" cy="495.1" rx="13.0" ry="16.8" fill="url(#lfk20)" transform="rotate(10 1026.9 495.1)"/>
<circle cx="1024.5" cy="499.7" r="1.07" fill="#aadc78" opacity="0.4"/>
<circle cx="1030.8" cy="494.4" r="1.03" fill="#aadc78" opacity="0.4"/>
<circle cx="1024.9" cy="502.8" r="0.90" fill="#aadc78" opacity="0.4"/>
<circle cx="1028.4" cy="498.7" r="0.80" fill="#aadc78" opacity="0.4"/>
<circle cx="1031.7" cy="490.9" r="0.81" fill="#aadc78" opacity="0.4"/>
<circle cx="1034.9" cy="488.2" r="0.92" fill="#aadc78" opacity="0.4"/>
<circle cx="1029.1" cy="498.5" r="0.75" fill="#aadc78" opacity="0.4"/>
<ellipse cx="1069.5" cy="492.1" rx="10.7" ry="10.7" fill="url(#lfk20)"/>
<circle cx="1068.3" cy="493.9" r="0.82" fill="#aadc78" opacity="0.4"/>
<circle cx="1069.2" cy="497.3" r="1.14" fill="#aadc78" opacity="0.4"/>
<circle cx="1069.5" cy="487.8" r="0.91" fill="#aadc78" opacity="0.4"/>
<circle cx="1065.5" cy="491.5" r="0.87" fill="#aadc78" opacity="0.4"/>
<circle cx="1072.6" cy="493.4" r="1.18" fill="#aadc78" opacity="0.4"/>
<circle cx="1072.9" cy="495.5" r="1.01" fill="#aadc78" opacity="0.4"/>
<circle cx="1071.5" cy="489.8" r="0.84" fill="#aadc78" opacity="0.4"/>
<ellipse cx="1069.0" cy="512.4" rx="12.2" ry="11.2" fill="url(#lfm20)"/>
<circle cx="1069.0" cy="516.7" r="0.92" fill="#aadc78" opacity="0.22"/>
<circle cx="1076.7" cy="510.3" r="1.14" fill="#aadc78" opacity="0.22"/>
<circle cx="1071.0" cy="512.6" r="1.05" fill="#aadc78" opacity="0.22"/>
</g>
<rect x="974.3" y="425.7" width="163.1" height="123.2" fill="none" stroke="#1c1c1c" stroke-width="0.9" opacity="0.85"/>
</g>
<g clip-path="url(#cp21)">
<rect x="1146.0" y="425.3" width="163.9" height="124.0" fill="url(#bg21)"/>
<g filter="url(#shad)" opacity="0.42">
<ellipse cx="1233.9" cy="463.6" rx="13.2" ry="10.1" fill="#1a1a1a" transform="rotate(10 1233.9 463.6)"/>
<ellipse cx="1238.0" cy="477.9" rx="10.6" ry="11.7" fill="#1a1a1a"/>
<ellipse cx="1199.9" cy="480.9" rx="15.7" ry="17.0" fill="#1a1a1a" transform="rotate(-20 1199.9 480.9)"/>
<ellipse cx="1259.3" cy="500.7" rx="12.5" ry="17.8" fill="#1a1a1a" transform="rotate(10 1259.3 500.7)"/>
<ellipse cx="1226.3" cy="493.1" rx="7.6" ry="7.6" fill="#1a1a1a"/>
<ellipse cx="1222.7" cy="509.8" rx="13.7" ry="12.7" fill="#1a1a1a" transform="rotate(10 1222.7 509.8)"/>
</g>
<g filter="url(#soft2)">
<circle cx="1217.3" cy="430.6" r="1.12" fill="#d8d8d8" opacity="0.63"/>
<circle cx="1192.0" cy="441.1" r="1.02" fill="#d8d8d8" opacity="0.42"/>
<circle cx="1232.2" cy="440.6" r="0.91" fill="#d8d8d8" opacity="0.35"/>
<circle cx="1286.0" cy="505.1" r="1.02" fill="#d8d8d8" opacity="0.49"/>
<circle cx="1277.1" cy="509.6" r="0.91" fill="#d8d8d8" opacity="0.35"/>
<circle cx="1281.9" cy="434.7" r="0.81" fill="#d8d8d8" opacity="0.28"/>
<circle cx="1290.0" cy="437.0" r="0.81" fill="#d8d8d8" opacity="0.28"/>
<circle cx="1192.2" cy="481.7" r="0.91" fill="#d8d8d8" opacity="0.63"/>
<circle cx="1257.5" cy="509.1" r="0.91" fill="#d8d8d8" opacity="0.63"/>
<path d="M1171.9 477.3 Q1169.9 483.9 1166.1 489.0 Q1162.3 494.1 1158.7 499.2 Q1155.2 504.3 1154.9 507.8 Q1154.7 511.4 1157.0 515.4 Q1159.2 519.5 1164.3 524.6 Q1169.4 529.7 1174.5 533.2 Q1179.6 536.8 1184.6 539.3 Q1189.7 541.8 1195.3 543.9 Q1200.9 545.9 1209.0 549.0" fill="none" stroke="#a39c88" stroke-width="1.37" stroke-linecap="round" opacity="0.72"/>
<path d="M1265.9 512.9 Q1272.0 518.5 1273.5 521.5 Q1275.0 524.6 1275.0 529.7 Q1275.0 534.7 1273.5 537.8 Q1272.0 540.8 1268.9 543.4 Q1265.9 545.9 1256.7 549.0" fill="none" stroke="#a39c88" stroke-width="1.37" stroke-linecap="round" opacity="0.72"/>
<path d="M1245.6 486.5 L1252.7 490.0" fill="none" stroke="#b0a898" stroke-width="1.52" stroke-linecap="round" opacity="0.72"/>
<path d="M1249.6 485.0 Q1252.7 478.9 1255.7 476.8 Q1258.8 474.8 1262.3 474.3 Q1265.9 473.8 1270.0 479.9" fill="none" stroke="#77736c" stroke-width="1.07" stroke-linecap="round" opacity="0.48"/>
<path d="M1245.6 532.7 L1246.6 544.9" fill="none" stroke="#666" stroke-width="1.07" stroke-linecap="round" opacity="0.32"/>
</g>
<g filter="url(#soft)">
<line x1="1230.3" y1="487.5" x2="1233.9" y2="463.6" stroke="#719e2e" stroke-width="1.83" stroke-linecap="round"/>
<line x1="1230.3" y1="487.5" x2="1238.0" y2="477.9" stroke="#719e2e" stroke-width="1.83" stroke-linecap="round"/>
<line x1="1230.3" y1="487.5" x2="1199.9" y2="480.9" stroke="#719e2e" stroke-width="1.83" stroke-linecap="round"/>
<line x1="1230.3" y1="487.5" x2="1259.3" y2="500.7" stroke="#719e2e" stroke-width="1.83" stroke-linecap="round"/>
<line x1="1230.3" y1="487.5" x2="1226.3" y2="493.1" stroke="#719e2e" stroke-width="1.83" stroke-linecap="round"/>
<line x1="1230.3" y1="487.5" x2="1222.7" y2="509.8" stroke="#719e2e" stroke-width="1.83" stroke-linecap="round"/>
<line x1="1211.0" y1="482.9" x2="1228.3" y2="486.5" stroke="#719e2e" stroke-width="2.28" stroke-linecap="round"/>
<line x1="1233.4" y1="489.0" x2="1249.6" y2="494.1" stroke="#719e2e" stroke-width="2.28" stroke-linecap="round"/>
<line x1="1229.3" y1="483.9" x2="1233.4" y2="479.9" stroke="#719e2e" stroke-width="1.95" stroke-linecap="round"/>
<ellipse cx="1233.9" cy="463.6" rx="12.2" ry="9.1" fill="url(#lfm21)" transform="rotate(10 1233.9 463.6)"/>
<circle cx="1238.1" cy="461.2" r="0.99" fill="#aadc78" opacity="0.22"/>
<circle cx="1238.6" cy="463.6" r="1.16" fill="#aadc78" opacity="0.22"/>
<circle cx="1237.6" cy="458.2" r="1.19" fill="#aadc78" opacity="0.22"/>
<ellipse cx="1238.0" cy="477.9" rx="9.6" ry="10.7" fill="url(#lfk21)"/>
<circle cx="1238.0" cy="480.1" r="0.78" fill="#aadc78" opacity="0.4"/>
<circle cx="1232.6" cy="477.0" r="1.17" fill="#aadc78" opacity="0.4"/>
<circle cx="1237.0" cy="472.2" r="1.08" fill="#aadc78" opacity="0.4"/>
<circle cx="1233.5" cy="479.2" r="0.72" fill="#aadc78" opacity="0.4"/>
<circle cx="1238.5" cy="474.8" r="1.16" fill="#aadc78" opacity="0.4"/>
<circle cx="1236.0" cy="475.0" r="0.76" fill="#aadc78" opacity="0.4"/>
<circle cx="1237.9" cy="483.5" r="1.05" fill="#aadc78" opacity="0.4"/>
<ellipse cx="1199.9" cy="480.9" rx="14.7" ry="16.0" fill="url(#lfk21)" transform="rotate(-20 1199.9 480.9)"/>
<circle cx="1202.0" cy="482.9" r="0.96" fill="#aadc78" opacity="0.4"/>
<circle cx="1195.0" cy="477.8" r="0.81" fill="#aadc78" opacity="0.4"/>
<circle cx="1198.0" cy="479.4" r="0.85" fill="#aadc78" opacity="0.4"/>
<circle cx="1189.5" cy="483.7" r="1.02" fill="#aadc78" opacity="0.4"/>
<circle cx="1204.6" cy="476.2" r="0.82" fill="#aadc78" opacity="0.4"/>
<circle cx="1200.1" cy="492.6" r="1.05" fill="#aadc78" opacity="0.4"/>
<circle cx="1199.0" cy="483.3" r="0.95" fill="#aadc78" opacity="0.4"/>
<ellipse cx="1259.3" cy="500.7" rx="11.5" ry="16.8" fill="url(#lfk21)" transform="rotate(10 1259.3 500.7)"/>
<circle cx="1257.2" cy="494.7" r="0.83" fill="#aadc78" opacity="0.4"/>
<circle cx="1255.3" cy="490.4" r="0.81" fill="#aadc78" opacity="0.4"/>
<circle cx="1263.2" cy="502.0" r="0.91" fill="#aadc78" opacity="0.4"/>
<circle cx="1258.0" cy="496.6" r="1.10" fill="#aadc78" opacity="0.4"/>
<circle cx="1258.9" cy="493.1" r="0.80" fill="#aadc78" opacity="0.4"/>
<circle cx="1263.1" cy="499.6" r="1.11" fill="#aadc78" opacity="0.4"/>
<circle cx="1259.7" cy="505.4" r="1.08" fill="#aadc78" opacity="0.4"/>
<ellipse cx="1226.3" cy="493.1" rx="6.6" ry="6.6" fill="url(#lfk21)"/>
<circle cx="1224.9" cy="497.7" r="0.95" fill="#aadc78" opacity="0.4"/>
<circle cx="1227.0" cy="494.8" r="0.91" fill="#aadc78" opacity="0.4"/>
<circle cx="1223.9" cy="489.0" r="0.77" fill="#aadc78" opacity="0.4"/>
<circle cx="1224.8" cy="494.2" r="1.19" fill="#aadc78" opacity="0.4"/>
<circle cx="1227.0" cy="494.0" r="0.73" fill="#aadc78" opacity="0.4"/>
<circle cx="1222.7" cy="495.9" r="1.14" fill="#aadc78" opacity="0.4"/>
<circle cx="1225.7" cy="488.2" r="1.17" fill="#aadc78" opacity="0.4"/>
<ellipse cx="1222.7" cy="509.8" rx="12.7" ry="11.7" fill="url(#lfn21)" transform="rotate(10 1222.7 509.8)"/>
<circle cx="1221.1" cy="512.5" r="1.17" fill="#aadc78" opacity="0.22"/>
<circle cx="1222.7" cy="507.9" r="1.03" fill="#aadc78" opacity="0.22"/>
<circle cx="1219.3" cy="512.9" r="0.87" fill="#aadc78" opacity="0.22"/>
</g>
<rect x="1146.4" y="425.7" width="163.1" height="123.2" fill="none" stroke="#1c1c1c" stroke-width="0.9" opacity="0.85"/>
</g>
<g clip-path="url(#cp22)">
<rect x="1318.1" y="425.3" width="163.9" height="124.0" fill="url(#bg22)"/>
<g filter="url(#shad)" opacity="0.42">
<ellipse cx="1390.7" cy="481.4" rx="11.2" ry="9.6" fill="#1a1a1a" transform="rotate(15 1390.7 481.4)"/>
<ellipse cx="1420.6" cy="482.9" rx="12.7" ry="11.7" fill="#1a1a1a" transform="rotate(15 1420.6 482.9)"/>
<ellipse cx="1387.1" cy="504.3" rx="13.7" ry="15.2" fill="#1a1a1a" transform="rotate(20 1387.1 504.3)"/>
<ellipse cx="1415.0" cy="508.8" rx="10.1" ry="12.2" fill="#1a1a1a" transform="rotate(-10 1415.0 508.8)"/>
<ellipse cx="1404.4" cy="493.1" rx="6.1" ry="5.1" fill="#1a1a1a"/>
<ellipse cx="1399.3" cy="486.5" rx="6.1" ry="5.1" fill="#1a1a1a"/>
</g>
<g filter="url(#soft2)">
<path d="M1350.5 501.2 Q1352.1 507.3 1354.3 511.4 Q1356.6 515.4 1358.7 517.7 Q1360.7 520.0 1363.2 521.2 Q1365.8 522.3 1369.3 521.4 Q1372.9 520.5 1381.0 517.5" fill="none" stroke="#b8b8b8" stroke-width="1.37" stroke-linecap="round" opacity="0.64"/>
<path d="M1401.3 498.2 Q1402.3 504.3 1400.3 507.3" fill="none" stroke="#c0c0b0" stroke-width="1.83" stroke-linecap="round" opacity="0.64"/>
</g>
<g filter="url(#soft)">
<line x1="1402.3" y1="494.1" x2="1390.7" y2="481.4" stroke="#73a22f" stroke-width="1.83" stroke-linecap="round"/>
<line x1="1402.3" y1="494.1" x2="1420.6" y2="482.9" stroke="#73a22f" stroke-width="1.83" stroke-linecap="round"/>
<line x1="1402.3" y1="494.1" x2="1387.1" y2="504.3" stroke="#73a22f" stroke-width="1.83" stroke-linecap="round"/>
<line x1="1402.3" y1="494.1" x2="1415.0" y2="508.8" stroke="#73a22f" stroke-width="1.83" stroke-linecap="round"/>
<line x1="1402.3" y1="494.1" x2="1404.4" y2="493.1" stroke="#73a22f" stroke-width="1.83" stroke-linecap="round"/>
<line x1="1402.3" y1="494.1" x2="1399.3" y2="486.5" stroke="#73a22f" stroke-width="1.83" stroke-linecap="round"/>
<line x1="1405.4" y1="491.1" x2="1412.5" y2="485.0" stroke="#73a22f" stroke-width="1.95" stroke-linecap="round"/>
<line x1="1395.2" y1="496.1" x2="1402.3" y2="494.1" stroke="#73a22f" stroke-width="1.79" stroke-linecap="round"/>
<line x1="1404.4" y1="498.2" x2="1409.4" y2="501.2" stroke="#73a22f" stroke-width="1.79" stroke-linecap="round"/>
<ellipse cx="1390.7" cy="481.4" rx="10.2" ry="8.6" fill="url(#lfm22)" transform="rotate(15 1390.7 481.4)"/>
<circle cx="1391.4" cy="482.6" r="0.84" fill="#aadc78" opacity="0.22"/>
<circle cx="1386.3" cy="486.4" r="0.76" fill="#aadc78" opacity="0.22"/>
<circle cx="1393.4" cy="480.9" r="0.88" fill="#aadc78" opacity="0.22"/>
<ellipse cx="1420.6" cy="482.9" rx="11.7" ry="10.7" fill="url(#lfn22)" transform="rotate(15 1420.6 482.9)"/>
<circle cx="1423.9" cy="476.8" r="0.92" fill="#aadc78" opacity="0.22"/>
<circle cx="1425.5" cy="484.3" r="0.89" fill="#aadc78" opacity="0.22"/>
<circle cx="1423.3" cy="481.6" r="0.88" fill="#aadc78" opacity="0.22"/>
<ellipse cx="1387.1" cy="504.3" rx="12.7" ry="14.2" fill="url(#lfn22)" transform="rotate(20 1387.1 504.3)"/>
<circle cx="1388.8" cy="502.8" r="0.91" fill="#aadc78" opacity="0.22"/>
<circle cx="1390.0" cy="496.2" r="0.72" fill="#aadc78" opacity="0.22"/>
<circle cx="1389.4" cy="504.8" r="1.16" fill="#aadc78" opacity="0.22"/>
<ellipse cx="1415.0" cy="508.8" rx="9.1" ry="11.2" fill="url(#lfn22)" transform="rotate(-10 1415.0 508.8)"/>
<circle cx="1414.8" cy="515.5" r="1.15" fill="#aadc78" opacity="0.22"/>
<circle cx="1413.5" cy="511.8" r="1.18" fill="#aadc78" opacity="0.22"/>
<circle cx="1413.0" cy="506.5" r="1.06" fill="#aadc78" opacity="0.22"/>
<ellipse cx="1404.4" cy="493.1" rx="5.1" ry="4.1" fill="url(#lfn22)"/>
<circle cx="1403.7" cy="494.3" r="0.70" fill="#aadc78" opacity="0.22"/>
<ellipse cx="1399.3" cy="486.5" rx="5.1" ry="4.1" fill="url(#lfn22)"/>
<circle cx="1399.4" cy="483.6" r="1.02" fill="#aadc78" opacity="0.22"/>
</g>
<rect x="1318.5" y="425.7" width="163.1" height="123.2" fill="none" stroke="#1c1c1c" stroke-width="0.9" opacity="0.85"/>
</g>
<g clip-path="url(#cp23)">
<rect x="1490.2" y="425.3" width="163.79999999999995" height="124.0" fill="url(#bg23)"/>
<g filter="url(#shad)" opacity="0.42">
<ellipse cx="1556.7" cy="484.2" rx="12.5" ry="12.0" fill="#1a1a1a" transform="rotate(-30 1556.7 484.2)"/>
<ellipse cx="1585.9" cy="481.2" rx="9.5" ry="7.5" fill="#1a1a1a" transform="rotate(15 1585.9 481.2)"/>
<ellipse cx="1577.8" cy="487.2" rx="7.0" ry="6.0" fill="#1a1a1a"/>
<ellipse cx="1572.3" cy="495.3" rx="5.0" ry="5.0" fill="#1a1a1a"/>
<ellipse cx="1564.8" cy="507.8" rx="10.0" ry="11.5" fill="#1a1a1a" transform="rotate(-15 1564.8 507.8)"/>
<ellipse cx="1587.4" cy="504.3" rx="12.0" ry="13.5" fill="#1a1a1a" transform="rotate(-15 1587.4 504.3)"/>
</g>
<g filter="url(#soft2)">
<circle cx="1633.0" cy="502.6" r="1.00" fill="#d8d8d8" opacity="0.42"/>
<path d="M1594.4 494.3 Q1601.4 494.8 1604.9 489.2" fill="none" stroke="#ddd" stroke-width="1.81" stroke-linecap="round" opacity="0.72"/>
<path d="M1575.3 499.3 L1578.3 497.8" fill="none" stroke="#ddd" stroke-width="1.81" stroke-linecap="round" opacity="0.72"/>
</g>
<g filter="url(#soft)">
<line x1="1575.3" y1="493.3" x2="1556.7" y2="484.2" stroke="#73a22f" stroke-width="1.81" stroke-linecap="round"/>
<line x1="1575.3" y1="493.3" x2="1585.9" y2="481.2" stroke="#73a22f" stroke-width="1.81" stroke-linecap="round"/>
<line x1="1575.3" y1="493.3" x2="1577.8" y2="487.2" stroke="#73a22f" stroke-width="1.81" stroke-linecap="round"/>
<line x1="1575.3" y1="493.3" x2="1572.3" y2="495.3" stroke="#73a22f" stroke-width="1.81" stroke-linecap="round"/>
<line x1="1575.3" y1="493.3" x2="1564.8" y2="507.8" stroke="#73a22f" stroke-width="1.81" stroke-linecap="round"/>
<line x1="1575.3" y1="493.3" x2="1587.4" y2="504.3" stroke="#73a22f" stroke-width="1.81" stroke-linecap="round"/>
<line x1="1564.3" y1="486.2" x2="1573.3" y2="493.3" stroke="#73a22f" stroke-width="1.77" stroke-linecap="round"/>
<line x1="1578.3" y1="495.3" x2="1584.3" y2="499.3" stroke="#73a22f" stroke-width="1.77" stroke-linecap="round"/>
<ellipse cx="1556.7" cy="484.2" rx="11.5" ry="11.0" fill="url(#lfn23)" transform="rotate(-30 1556.7 484.2)"/>
<circle cx="1558.5" cy="483.6" r="0.82" fill="#aadc78" opacity="0.22"/>
<circle cx="1548.5" cy="485.5" r="1.18" fill="#aadc78" opacity="0.22"/>
<circle cx="1554.1" cy="486.4" r="0.91" fill="#aadc78" opacity="0.22"/>
<ellipse cx="1585.9" cy="481.2" rx="8.5" ry="6.5" fill="url(#lfn23)" transform="rotate(15 1585.9 481.2)"/>
<circle cx="1579.8" cy="481.4" r="0.79" fill="#aadc78" opacity="0.22"/>
<circle cx="1587.5" cy="477.5" r="1.11" fill="#aadc78" opacity="0.22"/>
<circle cx="1586.5" cy="477.9" r="0.86" fill="#aadc78" opacity="0.22"/>
<ellipse cx="1577.8" cy="487.2" rx="6.0" ry="5.0" fill="url(#lfn23)"/>
<circle cx="1576.9" cy="488.9" r="1.09" fill="#aadc78" opacity="0.22"/>
<ellipse cx="1572.3" cy="495.3" rx="4.0" ry="4.0" fill="url(#lfd23)"/>
<circle cx="1573.3" cy="495.8" r="1.08" fill="#aadc78" opacity="0.4"/>
<circle cx="1572.3" cy="496.0" r="0.72" fill="#aadc78" opacity="0.4"/>
<circle cx="1571.0" cy="494.8" r="1.19" fill="#aadc78" opacity="0.4"/>
<ellipse cx="1564.8" cy="507.8" rx="9.0" ry="10.5" fill="url(#lfn23)" transform="rotate(-15 1564.8 507.8)"/>
<circle cx="1569.8" cy="502.6" r="0.83" fill="#aadc78" opacity="0.22"/>
<circle cx="1566.4" cy="508.9" r="0.95" fill="#aadc78" opacity="0.22"/>
<circle cx="1563.8" cy="503.5" r="0.82" fill="#aadc78" opacity="0.22"/>
<ellipse cx="1587.4" cy="504.3" rx="11.0" ry="12.5" fill="url(#lfn23)" transform="rotate(-15 1587.4 504.3)"/>
<circle cx="1582.4" cy="507.6" r="1.04" fill="#aadc78" opacity="0.22"/>
<circle cx="1587.3" cy="496.0" r="1.03" fill="#aadc78" opacity="0.22"/>
<circle cx="1592.6" cy="510.0" r="0.85" fill="#aadc78" opacity="0.22"/>
</g>
<rect x="1490.6000000000001" y="425.7" width="162.99999999999994" height="123.2" fill="none" stroke="#1c1c1c" stroke-width="0.9" opacity="0.85"/>
</g>
<g clip-path="url(#cp30)">
<rect x="973.9" y="572.4" width="163.9" height="124.0" fill="url(#bg30)"/>
<g filter="url(#shad)" opacity="0.42">
<ellipse cx="1034.0" cy="616.7" rx="17.0" ry="19.6" fill="#1a1a1a" transform="rotate(20 1034.0 616.7)"/>
<ellipse cx="1077.1" cy="621.8" rx="11.2" ry="11.7" fill="#1a1a1a"/>
<ellipse cx="1073.6" cy="639.1" rx="10.1" ry="11.2" fill="#1a1a1a"/>
<ellipse cx="1059.4" cy="643.6" rx="9.6" ry="9.1" fill="#1a1a1a"/>
<ellipse cx="1042.1" cy="649.2" rx="11.7" ry="14.7" fill="#1a1a1a" transform="rotate(-10 1042.1 649.2)"/>
<ellipse cx="1074.6" cy="667.5" rx="18.8" ry="13.7" fill="#1a1a1a" transform="rotate(-18 1074.6 667.5)"/>
</g>
<g filter="url(#soft2)">
<circle cx="1126.7" cy="608.6" r="1.52" fill="#d8d8d8" opacity="0.70"/>
<circle cx="1077.6" cy="602.7" r="1.02" fill="#d8d8d8" opacity="0.56"/>
<circle cx="1073.1" cy="596.9" r="0.91" fill="#d8d8d8" opacity="0.21"/>
<circle cx="1136.0" cy="689.7" r="0.91" fill="#d8d8d8" opacity="0.28"/>
<path d="M1029.9 597.4 Q1024.8 592.9 1021.8 591.8 Q1018.7 590.8 1014.7 590.8 Q1010.6 590.8 1007.0 593.1 Q1003.5 595.4 1000.4 598.9 Q997.4 602.5 996.4 607.6 Q995.4 612.7 996.9 616.7 Q998.4 620.8 1000.4 623.8 Q1002.5 626.9 1007.6 632.5 Q1012.6 638.1 1016.7 641.1 Q1020.8 644.1 1031.9 645.7" fill="none" stroke="#8f8a78" stroke-width="1.37" stroke-linecap="round" opacity="0.72"/>
<path d="M981.6 610.1 L995.4 611.6" fill="none" stroke="#6a6862" stroke-width="1.07" stroke-linecap="round" opacity="0.56"/>
<path d="M982.2 610.6 Q983.2 618.8 984.7 622.8 Q986.2 626.9 990.3 631.5 Q994.3 636.0 998.4 637.0 Q1002.5 638.1 1006.5 638.1 Q1010.6 638.1 1013.6 637.0 Q1016.7 636.0 1020.8 633.0" fill="none" stroke="#6a6862" stroke-width="1.07" stroke-linecap="round" opacity="0.56"/>
<path d="M1005.5 640.1 Q1007.6 644.1 1009.1 645.7 Q1010.6 647.2 1013.1 647.7 Q1015.7 648.2 1019.7 647.2" fill="none" stroke="#6a6862" stroke-width="1.07" stroke-linecap="round" opacity="0.56"/>
<path d="M1022.8 647.2 Q1022.3 651.3 1023.0 653.8 Q1023.8 656.3 1026.3 658.6 Q1028.9 660.9 1034.0 658.4" fill="none" stroke="#66645e" stroke-width="1.07" stroke-linecap="round" opacity="0.56"/>
<path d="M1051.2 659.4 Q1057.3 661.4 1063.4 662.4" fill="none" stroke="#8a8678" stroke-width="1.22" stroke-linecap="round" opacity="0.64"/>
<path d="M1062.4 632.0 Q1063.4 628.9 1067.5 624.9" fill="none" stroke="#c8c8c0" stroke-width="1.37" stroke-linecap="round" opacity="0.72"/>
<path d="M1000.4 620.8 Q1007.6 617.7 1015.7 619.8" fill="none" stroke="#605e5a" stroke-width="1.07" stroke-linecap="round" opacity="0.48"/>
<path d="M1045.1 641.1 L1053.3 636.0" fill="none" stroke="#a09080" stroke-width="1.37" stroke-linecap="round" opacity="0.64"/>
<circle cx="1053.3" cy="608.9" r="2.44" fill="#d8a88c"/>
<circle cx="1098.0" cy="627.9" r="3.25" fill="none" stroke="#c8c8c8" stroke-width="0.9" opacity="0.8"/>
</g>
<g filter="url(#soft)">
<line x1="1061.4" y1="638.1" x2="1034.0" y2="616.7" stroke="#76a630" stroke-width="1.83" stroke-linecap="round"/>
<line x1="1061.4" y1="638.1" x2="1077.1" y2="621.8" stroke="#76a630" stroke-width="1.83" stroke-linecap="round"/>
<line x1="1061.4" y1="638.1" x2="1073.6" y2="639.1" stroke="#76a630" stroke-width="1.83" stroke-linecap="round"/>
<line x1="1061.4" y1="638.1" x2="1059.4" y2="643.6" stroke="#76a630" stroke-width="1.83" stroke-linecap="round"/>
<line x1="1061.4" y1="638.1" x2="1042.1" y2="649.2" stroke="#76a630" stroke-width="1.83" stroke-linecap="round"/>
<line x1="1061.4" y1="638.1" x2="1074.6" y2="667.5" stroke="#76a630" stroke-width="1.83" stroke-linecap="round"/>
<line x1="1045.1" y1="624.9" x2="1058.3" y2="635.0" stroke="#76a630" stroke-width="2.44" stroke-linecap="round"/>
<line x1="1066.5" y1="650.2" x2="1070.5" y2="657.4" stroke="#76a630" stroke-width="2.28" stroke-linecap="round"/>
<ellipse cx="1034.0" cy="616.7" rx="16.0" ry="18.6" fill="url(#lfn30)" transform="rotate(20 1034.0 616.7)"/>
<circle cx="1028.5" cy="613.9" r="1.07" fill="#aadc78" opacity="0.22"/>
<circle cx="1035.5" cy="622.0" r="0.82" fill="#aadc78" opacity="0.22"/>
<circle cx="1040.2" cy="627.1" r="0.99" fill="#aadc78" opacity="0.22"/>
<ellipse cx="1077.1" cy="621.8" rx="10.2" ry="10.7" fill="url(#lfd30)"/>
<circle cx="1075.3" cy="625.5" r="1.20" fill="#aadc78" opacity="0.4"/>
<circle cx="1074.2" cy="621.7" r="1.10" fill="#aadc78" opacity="0.4"/>
<circle cx="1072.8" cy="615.3" r="0.75" fill="#aadc78" opacity="0.4"/>
<circle cx="1070.7" cy="622.9" r="1.12" fill="#aadc78" opacity="0.4"/>
<circle cx="1078.6" cy="620.9" r="0.85" fill="#aadc78" opacity="0.4"/>
<circle cx="1079.1" cy="623.7" r="1.19" fill="#aadc78" opacity="0.4"/>
<circle cx="1070.9" cy="618.0" r="0.89" fill="#aadc78" opacity="0.4"/>
<ellipse cx="1073.6" cy="639.1" rx="9.1" ry="10.2" fill="url(#lfd30)"/>
<circle cx="1076.1" cy="635.9" r="0.83" fill="#aadc78" opacity="0.4"/>
<circle cx="1074.7" cy="631.9" r="0.75" fill="#aadc78" opacity="0.4"/>
<circle cx="1069.6" cy="636.1" r="0.81" fill="#aadc78" opacity="0.4"/>
<circle cx="1072.1" cy="640.8" r="0.80" fill="#aadc78" opacity="0.4"/>
<circle cx="1073.4" cy="644.2" r="1.03" fill="#aadc78" opacity="0.4"/>
<circle cx="1074.0" cy="640.6" r="0.86" fill="#aadc78" opacity="0.4"/>
<circle cx="1072.5" cy="636.7" r="0.86" fill="#aadc78" opacity="0.4"/>
<ellipse cx="1059.4" cy="643.6" rx="8.6" ry="8.1" fill="url(#lfd30)"/>
<circle cx="1060.9" cy="648.5" r="0.97" fill="#aadc78" opacity="0.4"/>
<circle cx="1061.0" cy="644.3" r="0.90" fill="#aadc78" opacity="0.4"/>
<circle cx="1055.0" cy="642.3" r="0.75" fill="#aadc78" opacity="0.4"/>
<circle cx="1061.9" cy="647.6" r="0.90" fill="#aadc78" opacity="0.4"/>
<circle cx="1058.8" cy="646.3" r="1.18" fill="#aadc78" opacity="0.4"/>
<circle cx="1057.7" cy="647.3" r="0.88" fill="#aadc78" opacity="0.4"/>
<circle cx="1054.4" cy="646.4" r="1.20" fill="#aadc78" opacity="0.4"/>
<ellipse cx="1042.1" cy="649.2" rx="10.7" ry="13.7" fill="url(#lfm30)" transform="rotate(-10 1042.1 649.2)"/>
<circle cx="1040.2" cy="652.0" r="1.06" fill="#aadc78" opacity="0.22"/>
<circle cx="1042.6" cy="651.2" r="1.15" fill="#aadc78" opacity="0.22"/>
<circle cx="1036.0" cy="653.3" r="0.90" fill="#aadc78" opacity="0.22"/>
<ellipse cx="1074.6" cy="667.5" rx="17.8" ry="12.7" fill="url(#lfn30)" transform="rotate(-18 1074.6 667.5)"/>
<circle cx="1080.2" cy="663.9" r="0.78" fill="#aadc78" opacity="0.22"/>
<circle cx="1083.1" cy="668.1" r="1.02" fill="#aadc78" opacity="0.22"/>
<circle cx="1077.6" cy="666.1" r="1.01" fill="#aadc78" opacity="0.22"/>
</g>
<rect x="974.3" y="572.8" width="163.1" height="123.2" fill="none" stroke="#1c1c1c" stroke-width="0.9" opacity="0.85"/>
</g>
<g clip-path="url(#cp31)">
<rect x="1146.0" y="572.4" width="163.9" height="124.0" fill="url(#bg31)"/>
<g filter="url(#shad)" opacity="0.42">
<ellipse cx="1222.7" cy="610.6" rx="15.2" ry="11.0" fill="#1a1a1a" transform="rotate(25 1222.7 610.6)"/>
<ellipse cx="1245.6" cy="628.9" rx="9.6" ry="12.2" fill="#1a1a1a" transform="rotate(-15 1245.6 628.9)"/>
<ellipse cx="1223.2" cy="636.0" rx="8.1" ry="8.6" fill="#1a1a1a"/>
<ellipse cx="1233.4" cy="634.5" rx="5.6" ry="5.1" fill="#1a1a1a"/>
<ellipse cx="1208.0" cy="654.3" rx="14.7" ry="14.2" fill="#1a1a1a"/>
<ellipse cx="1256.7" cy="652.3" rx="13.7" ry="15.7" fill="#1a1a1a" transform="rotate(-15 1256.7 652.3)"/>
</g>
<g filter="url(#soft2)">
<circle cx="1171.4" cy="622.8" r="1.12" fill="#d8d8d8" opacity="0.56"/>
<circle cx="1160.3" cy="627.4" r="0.91" fill="#d8d8d8" opacity="0.42"/>
<circle cx="1153.9" cy="648.5" r="1.02" fill="#d8d8d8" opacity="0.42"/>
<circle cx="1284.7" cy="602.7" r="0.91" fill="#d8d8d8" opacity="0.42"/>
<circle cx="1295.7" cy="646.5" r="1.02" fill="#d8d8d8" opacity="0.49"/>
<circle cx="1278.9" cy="684.6" r="1.12" fill="#d8d8d8" opacity="0.49"/>
<circle cx="1149.6" cy="668.0" r="0.91" fill="#d8d8d8" opacity="0.35"/>
<circle cx="1232.4" cy="626.2" r="0.81" fill="#d8d8d8" opacity="0.35"/>
<circle cx="1263.3" cy="599.5" r="0.81" fill="#d8d8d8" opacity="0.21"/>
<path d="M1224.2 624.9 Q1215.1 618.8 1210.0 618.8 Q1204.9 618.8 1200.9 621.8 Q1196.8 624.9 1196.1 628.4 Q1195.3 632.0 1195.5 633.5 Q1195.8 635.0 1200.9 643.1" fill="none" stroke="#7c786c" stroke-width="1.22" stroke-linecap="round" opacity="0.64"/>
<path d="M1208.0 620.8 L1208.0 641.1" fill="none" stroke="#605e58" stroke-width="1.07" stroke-linecap="round" opacity="0.48"/>
<path d="M1177.5 613.2 Q1187.7 617.7 1197.8 620.8" fill="none" stroke="#605e58" stroke-width="1.07" stroke-linecap="round" opacity="0.48"/>
<path d="M1180.6 650.2 Q1181.1 656.3 1182.9 659.4 Q1184.6 662.4 1188.7 665.5 Q1192.8 668.5 1198.9 670.1 Q1204.9 671.6 1211.0 668.5" fill="none" stroke="#605e58" stroke-width="1.07" stroke-linecap="round" opacity="0.48"/>
<path d="M1243.5 647.2 Q1233.4 646.2 1230.3 649.2 Q1227.3 652.3 1227.8 656.8 Q1228.3 661.4 1232.9 663.4 Q1237.4 665.5 1245.6 661.4" fill="none" stroke="#6a6860" stroke-width="1.07" stroke-linecap="round" opacity="0.56"/>
<path d="M1228.3 601.5 L1238.0 597.4" fill="none" stroke="#777" stroke-width="1.07" stroke-linecap="round" opacity="0.48"/>
<path d="M1170.4 636.0 Q1172.4 644.1 1176.5 647.2 Q1180.6 650.2 1188.7 647.2" fill="none" stroke="#55534e" stroke-width="1.07" stroke-linecap="round" opacity="0.40"/>
</g>
<g filter="url(#soft)">
<line x1="1230.3" y1="638.1" x2="1222.7" y2="610.6" stroke="#76a630" stroke-width="1.83" stroke-linecap="round"/>
<line x1="1230.3" y1="638.1" x2="1245.6" y2="628.9" stroke="#76a630" stroke-width="1.83" stroke-linecap="round"/>
<line x1="1230.3" y1="638.1" x2="1223.2" y2="636.0" stroke="#76a630" stroke-width="1.83" stroke-linecap="round"/>
<line x1="1230.3" y1="638.1" x2="1233.4" y2="634.5" stroke="#76a630" stroke-width="1.83" stroke-linecap="round"/>
<line x1="1230.3" y1="638.1" x2="1208.0" y2="654.3" stroke="#76a630" stroke-width="1.83" stroke-linecap="round"/>
<line x1="1230.3" y1="638.1" x2="1256.7" y2="652.3" stroke="#76a630" stroke-width="1.83" stroke-linecap="round"/>
<line x1="1228.3" y1="619.8" x2="1229.3" y2="630.9" stroke="#76a630" stroke-width="2.11" stroke-linecap="round"/>
<line x1="1232.4" y1="640.1" x2="1246.6" y2="646.2" stroke="#76a630" stroke-width="2.11" stroke-linecap="round"/>
<line x1="1219.2" y1="645.2" x2="1225.3" y2="641.1" stroke="#76a630" stroke-width="2.11" stroke-linecap="round"/>
<ellipse cx="1222.7" cy="610.6" rx="14.2" ry="10.0" fill="url(#lfn31)" transform="rotate(25 1222.7 610.6)"/>
<circle cx="1218.3" cy="613.9" r="0.77" fill="#aadc78" opacity="0.22"/>
<circle cx="1221.4" cy="615.1" r="1.16" fill="#aadc78" opacity="0.22"/>
<circle cx="1227.6" cy="613.4" r="1.10" fill="#aadc78" opacity="0.22"/>
<ellipse cx="1245.6" cy="628.9" rx="8.6" ry="11.2" fill="url(#lfm31)" transform="rotate(-15 1245.6 628.9)"/>
<circle cx="1247.8" cy="628.3" r="0.76" fill="#aadc78" opacity="0.22"/>
<circle cx="1251.5" cy="626.0" r="0.94" fill="#aadc78" opacity="0.22"/>
<circle cx="1251.3" cy="631.5" r="0.89" fill="#aadc78" opacity="0.22"/>
<ellipse cx="1223.2" cy="636.0" rx="7.1" ry="7.6" fill="url(#lfk31)"/>
<circle cx="1226.3" cy="633.8" r="1.11" fill="#aadc78" opacity="0.4"/>
<circle cx="1225.6" cy="640.0" r="0.81" fill="#aadc78" opacity="0.4"/>
<circle cx="1219.4" cy="638.9" r="1.11" fill="#aadc78" opacity="0.4"/>
<circle cx="1224.0" cy="638.0" r="0.90" fill="#aadc78" opacity="0.4"/>
<circle cx="1220.5" cy="635.7" r="0.76" fill="#aadc78" opacity="0.4"/>
<circle cx="1223.3" cy="640.5" r="1.15" fill="#aadc78" opacity="0.4"/>
<circle cx="1226.6" cy="637.0" r="1.08" fill="#aadc78" opacity="0.4"/>
<ellipse cx="1233.4" cy="634.5" rx="4.6" ry="4.1" fill="url(#lfn31)"/>
<circle cx="1236.3" cy="635.1" r="0.76" fill="#aadc78" opacity="0.22"/>
<ellipse cx="1208.0" cy="654.3" rx="13.7" ry="13.2" fill="url(#lfm31)"/>
<circle cx="1202.7" cy="650.6" r="1.01" fill="#aadc78" opacity="0.22"/>
<circle cx="1206.1" cy="659.3" r="0.99" fill="#aadc78" opacity="0.22"/>
<circle cx="1201.3" cy="657.5" r="0.92" fill="#aadc78" opacity="0.22"/>
<ellipse cx="1256.7" cy="652.3" rx="12.7" ry="14.7" fill="url(#lfn31)" transform="rotate(-15 1256.7 652.3)"/>
<circle cx="1254.8" cy="653.2" r="1.01" fill="#aadc78" opacity="0.22"/>
<circle cx="1253.1" cy="652.6" r="1.08" fill="#aadc78" opacity="0.22"/>
<circle cx="1257.8" cy="646.1" r="0.79" fill="#aadc78" opacity="0.22"/>
</g>
<rect x="1146.4" y="572.8" width="163.1" height="123.2" fill="none" stroke="#1c1c1c" stroke-width="0.9" opacity="0.85"/>
</g>
<g clip-path="url(#cp32)">
<rect x="1318.1" y="572.4" width="163.9" height="124.0" fill="url(#bg32)"/>
<g filter="url(#shad)" opacity="0.42">
<ellipse cx="1392.7" cy="623.3" rx="11.2" ry="10.6" fill="#1a1a1a"/>
<ellipse cx="1421.6" cy="631.5" rx="13.7" ry="14.7" fill="#1a1a1a"/>
<ellipse cx="1379.5" cy="650.2" rx="13.2" ry="15.2" fill="#1a1a1a"/>
<ellipse cx="1398.8" cy="635.0" rx="7.1" ry="6.1" fill="#1a1a1a"/>
<ellipse cx="1403.4" cy="647.2" rx="8.1" ry="7.1" fill="#1a1a1a"/>
<ellipse cx="1407.9" cy="657.4" rx="12.2" ry="10.6" fill="#1a1a1a"/>
</g>
<g filter="url(#soft2)">
<path d="M1417.6 574.1 Q1417.6 581.2 1418.6 585.2 Q1419.6 589.3 1421.4 592.9 Q1423.2 596.4 1422.4 599.5 Q1421.6 602.5 1417.6 603.3 Q1413.5 604.0 1412.0 606.3 Q1410.5 608.6 1411.0 610.6 Q1411.5 612.7 1409.4 614.2 Q1407.4 615.7 1404.4 620.8" fill="none" stroke="#9a9a9a" stroke-width="1.22" stroke-linecap="round" opacity="0.64"/>
<path d="M1387.6 574.1 L1387.6 635.0" fill="none" stroke="#666" stroke-width="1.07" stroke-linecap="round" opacity="0.32"/>
<path d="M1375.9 664.5 Q1373.9 679.7 1370.9 691.9" fill="none" stroke="#666" stroke-width="1.07" stroke-linecap="round" opacity="0.40"/>
<path d="M1388.6 665.5 L1390.1 691.9" fill="none" stroke="#555" stroke-width="1.07" stroke-linecap="round" opacity="0.32"/>
</g>
<g filter="url(#soft)">
<line x1="1401.3" y1="641.1" x2="1392.7" y2="623.3" stroke="#73a22f" stroke-width="1.83" stroke-linecap="round"/>
<line x1="1401.3" y1="641.1" x2="1421.6" y2="631.5" stroke="#73a22f" stroke-width="1.83" stroke-linecap="round"/>
<line x1="1401.3" y1="641.1" x2="1379.5" y2="650.2" stroke="#73a22f" stroke-width="1.83" stroke-linecap="round"/>
<line x1="1401.3" y1="641.1" x2="1398.8" y2="635.0" stroke="#73a22f" stroke-width="1.83" stroke-linecap="round"/>
<line x1="1401.3" y1="641.1" x2="1403.4" y2="647.2" stroke="#73a22f" stroke-width="1.83" stroke-linecap="round"/>
<line x1="1401.3" y1="641.1" x2="1407.9" y2="657.4" stroke="#73a22f" stroke-width="1.83" stroke-linecap="round"/>
<line x1="1389.1" y1="643.6" x2="1400.3" y2="641.1" stroke="#73a22f" stroke-width="2.11" stroke-linecap="round"/>
<line x1="1404.4" y1="639.1" x2="1411.5" y2="635.5" stroke="#73a22f" stroke-width="2.11" stroke-linecap="round"/>
<ellipse cx="1392.7" cy="623.3" rx="10.2" ry="9.6" fill="url(#lfm32)"/>
<circle cx="1390.5" cy="623.7" r="0.76" fill="#aadc78" opacity="0.22"/>
<circle cx="1390.8" cy="624.2" r="0.92" fill="#aadc78" opacity="0.22"/>
<circle cx="1390.9" cy="623.2" r="1.02" fill="#aadc78" opacity="0.22"/>
<ellipse cx="1421.6" cy="631.5" rx="12.7" ry="13.7" fill="url(#lfn32)"/>
<circle cx="1428.2" cy="635.5" r="1.09" fill="#aadc78" opacity="0.22"/>
<circle cx="1419.3" cy="631.3" r="0.95" fill="#aadc78" opacity="0.22"/>
<circle cx="1415.1" cy="638.3" r="0.77" fill="#aadc78" opacity="0.22"/>
<ellipse cx="1379.5" cy="650.2" rx="12.2" ry="14.2" fill="url(#lfn32)"/>
<circle cx="1385.2" cy="641.9" r="1.07" fill="#aadc78" opacity="0.22"/>
<circle cx="1380.8" cy="646.8" r="1.19" fill="#aadc78" opacity="0.22"/>
<circle cx="1370.7" cy="650.8" r="1.16" fill="#aadc78" opacity="0.22"/>
<ellipse cx="1398.8" cy="635.0" rx="6.1" ry="5.1" fill="url(#lfn32)"/>
<circle cx="1400.7" cy="637.7" r="1.17" fill="#aadc78" opacity="0.22"/>
<ellipse cx="1403.4" cy="647.2" rx="7.1" ry="6.1" fill="url(#lfn32)"/>
<circle cx="1405.7" cy="648.1" r="1.08" fill="#aadc78" opacity="0.22"/>
<circle cx="1406.0" cy="650.7" r="0.84" fill="#aadc78" opacity="0.22"/>
<circle cx="1404.0" cy="645.9" r="0.95" fill="#aadc78" opacity="0.22"/>
<ellipse cx="1407.9" cy="657.4" rx="11.2" ry="9.6" fill="url(#lfn32)"/>
<circle cx="1410.6" cy="656.1" r="0.83" fill="#aadc78" opacity="0.22"/>
<circle cx="1404.1" cy="657.2" r="0.72" fill="#aadc78" opacity="0.22"/>
<circle cx="1409.1" cy="659.5" r="1.17" fill="#aadc78" opacity="0.22"/>
</g>
<rect x="1318.5" y="572.8" width="163.1" height="123.2" fill="none" stroke="#1c1c1c" stroke-width="0.9" opacity="0.85"/>
</g>
<g clip-path="url(#cp33)">
<rect x="1490.2" y="572.4" width="163.79999999999995" height="124.0" fill="url(#bg33)"/>
<g filter="url(#shad)" opacity="0.42">
<ellipse cx="1556.2" cy="626.7" rx="12.5" ry="11.5" fill="#1a1a1a" transform="rotate(-20 1556.2 626.7)"/>
<ellipse cx="1580.8" cy="626.7" rx="11.0" ry="9.0" fill="#1a1a1a" transform="rotate(30 1580.8 626.7)"/>
<ellipse cx="1589.4" cy="644.8" rx="11.0" ry="13.0" fill="#1a1a1a" transform="rotate(-10 1589.4 644.8)"/>
<ellipse cx="1568.3" cy="644.3" rx="6.5" ry="6.0" fill="#1a1a1a"/>
<ellipse cx="1556.7" cy="653.8" rx="11.0" ry="12.0" fill="#1a1a1a"/>
</g>
<g filter="url(#soft2)">
<path d="M1528.1 641.8 Q1529.1 649.3 1529.6 651.8 Q1530.2 654.3 1532.2 657.6 Q1534.2 660.8 1537.2 659.8 Q1540.2 658.8 1546.2 657.3" fill="none" stroke="#8a8a8a" stroke-width="1.20" stroke-linecap="round" opacity="0.48"/>
<path d="M1572.3 648.3 Q1572.3 652.3 1568.3 656.3" fill="none" stroke="#888" stroke-width="1.20" stroke-linecap="round" opacity="0.48"/>
<circle cx="1495.5" cy="608.6" r="2.81" fill="none" stroke="#c8c8c8" stroke-width="0.9" opacity="0.8"/>
<circle cx="1492.5" cy="577.5" r="2.01" fill="none" stroke="#c8c8c8" stroke-width="0.9" opacity="0.8"/>
</g>
<g filter="url(#soft)">
<line x1="1571.3" y1="639.2" x2="1556.2" y2="626.7" stroke="#6e9b2d" stroke-width="1.81" stroke-linecap="round"/>
<line x1="1571.3" y1="639.2" x2="1580.8" y2="626.7" stroke="#6e9b2d" stroke-width="1.81" stroke-linecap="round"/>
<line x1="1571.3" y1="639.2" x2="1589.4" y2="644.8" stroke="#6e9b2d" stroke-width="1.81" stroke-linecap="round"/>
<line x1="1571.3" y1="639.2" x2="1568.3" y2="644.3" stroke="#6e9b2d" stroke-width="1.81" stroke-linecap="round"/>
<line x1="1571.3" y1="639.2" x2="1556.7" y2="653.8" stroke="#6e9b2d" stroke-width="1.81" stroke-linecap="round"/>
<line x1="1561.3" y1="630.2" x2="1568.3" y2="637.2" stroke="#6e9b2d" stroke-width="1.77" stroke-linecap="round"/>
<line x1="1573.3" y1="635.2" x2="1576.3" y2="632.2" stroke="#6e9b2d" stroke-width="1.77" stroke-linecap="round"/>
<ellipse cx="1556.2" cy="626.7" rx="11.5" ry="10.5" fill="url(#lfk33)" transform="rotate(-20 1556.2 626.7)"/>
<circle cx="1552.9" cy="620.2" r="0.78" fill="#aadc78" opacity="0.4"/>
<circle cx="1556.8" cy="624.5" r="0.97" fill="#aadc78" opacity="0.4"/>
<circle cx="1553.5" cy="623.8" r="1.14" fill="#aadc78" opacity="0.4"/>
<circle cx="1550.8" cy="624.9" r="1.14" fill="#aadc78" opacity="0.4"/>
<circle cx="1563.1" cy="631.5" r="1.01" fill="#aadc78" opacity="0.4"/>
<circle cx="1550.5" cy="630.8" r="0.83" fill="#aadc78" opacity="0.4"/>
<circle cx="1562.0" cy="626.4" r="0.88" fill="#aadc78" opacity="0.4"/>
<ellipse cx="1580.8" cy="626.7" rx="10.0" ry="8.0" fill="url(#lfd33)" transform="rotate(30 1580.8 626.7)"/>
<circle cx="1581.2" cy="623.4" r="0.79" fill="#aadc78" opacity="0.4"/>
<circle cx="1580.8" cy="625.3" r="1.11" fill="#aadc78" opacity="0.4"/>
<circle cx="1580.7" cy="631.0" r="1.19" fill="#aadc78" opacity="0.4"/>
<circle cx="1576.1" cy="624.4" r="0.86" fill="#aadc78" opacity="0.4"/>
<circle cx="1582.5" cy="626.7" r="0.77" fill="#aadc78" opacity="0.4"/>
<circle cx="1577.8" cy="624.5" r="0.96" fill="#aadc78" opacity="0.4"/>
<circle cx="1582.7" cy="625.6" r="0.81" fill="#aadc78" opacity="0.4"/>
<ellipse cx="1589.4" cy="644.8" rx="10.0" ry="12.0" fill="url(#lfn33)" transform="rotate(-10 1589.4 644.8)"/>
<circle cx="1588.4" cy="643.2" r="0.70" fill="#aadc78" opacity="0.22"/>
<circle cx="1588.1" cy="646.8" r="0.88" fill="#aadc78" opacity="0.22"/>
<circle cx="1590.2" cy="650.7" r="0.99" fill="#aadc78" opacity="0.22"/>
<ellipse cx="1568.3" cy="644.3" rx="5.5" ry="5.0" fill="url(#lfk33)"/>
<circle cx="1569.1" cy="646.8" r="0.94" fill="#aadc78" opacity="0.4"/>
<circle cx="1570.9" cy="646.9" r="0.82" fill="#aadc78" opacity="0.4"/>
<circle cx="1569.0" cy="645.1" r="1.02" fill="#aadc78" opacity="0.4"/>
<ellipse cx="1556.7" cy="653.8" rx="10.0" ry="11.0" fill="url(#lfd33)"/>
<circle cx="1561.0" cy="648.9" r="0.90" fill="#aadc78" opacity="0.4"/>
<circle cx="1556.6" cy="655.5" r="1.02" fill="#aadc78" opacity="0.4"/>
<circle cx="1553.4" cy="652.3" r="1.02" fill="#aadc78" opacity="0.4"/>
<circle cx="1550.0" cy="656.5" r="1.07" fill="#aadc78" opacity="0.4"/>
<circle cx="1556.8" cy="661.4" r="0.72" fill="#aadc78" opacity="0.4"/>
<circle cx="1552.9" cy="652.9" r="0.82" fill="#aadc78" opacity="0.4"/>
<circle cx="1562.5" cy="656.2" r="0.71" fill="#aadc78" opacity="0.4"/>
</g>
<rect x="1490.6000000000001" y="572.8" width="162.99999999999994" height="123.2" fill="none" stroke="#1c1c1c" stroke-width="0.9" opacity="0.85"/>
</g>
<rect x="1558.0" y="686.1" width="84.5" height="6.0" fill="#fff" stroke="#2a2a2a" stroke-width="0.9" paint-order="stroke"/>
<text transform="translate(1601.9 679.7) scale(0.86 1)" text-anchor="middle" font-size="26.6" style="font-family:'DejaVu Sans',sans-serif;font-weight:bold;fill:#fff;stroke:#262626;stroke-width:2.2;stroke-linejoin:round;paint-order:stroke">1cm</text>
</svg></body></html>
